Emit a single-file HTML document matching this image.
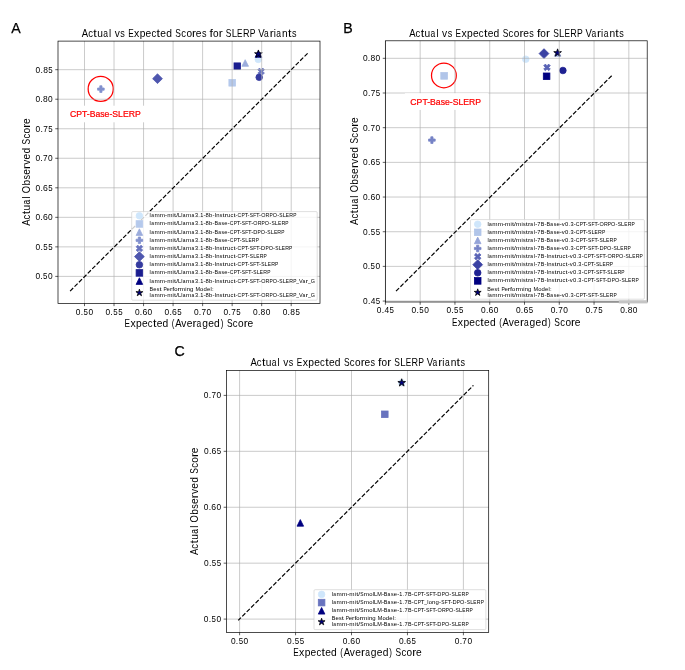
<!DOCTYPE html>
<html><head><meta charset="utf-8"><title>Actual vs Expected Scores for SLERP Variants</title>
<style>
html,body{margin:0;padding:0;background:#fff;}
body{width:685px;height:670px;overflow:hidden;}
svg{display:block;will-change:transform;}
text{font-family:"Liberation Sans",sans-serif;}
</style></head><body>
<svg width="685" height="670" viewBox="0 0 685 670">
<rect width="685" height="670" fill="#fff"/>
<circle cx="258.3" cy="59.4" r="3.3" fill="#cfe6fb" stroke="#cfe6fb" stroke-width="0.79"/>
<rect x="228.9" y="79.5" width="6.6" height="6.6" fill="#b5c9ec" stroke="#b5c9ec" stroke-width="0.79"/>
<polygon points="245.2,59.7 241.9,66.3 248.5,66.3" fill="#9bacdc" stroke="#9bacdc" stroke-width="0.79" stroke-linejoin="miter"/>
<polygon points="99.8,85.8 102,85.8 102,88 104.2,88 104.2,90.2 102,90.2 102,92.4 99.8,92.4 99.8,90.2 97.6,90.2 97.6,88 99.8,88" fill="#8190cd" stroke="#8190cd" stroke-width="0.79"/>
<polygon points="259.45,68.1 261.1,69.75 262.75,68.1 264.4,69.75 262.75,71.4 264.4,73.05 262.75,74.7 261.1,73.05 259.45,74.7 257.8,73.05 259.45,71.4 257.8,69.75" fill="#6873be" stroke="#6873be" stroke-width="0.79"/>
<polygon points="157.5,73.8 162.4,78.7 157.5,83.6 152.6,78.7" fill="#4e56ae" stroke="#4e56ae" stroke-width="0.79"/>
<circle cx="259.2" cy="77.3" r="3.3" fill="#343a9f" stroke="#343a9f" stroke-width="0.79"/>
<rect x="234" y="62.9" width="6.6" height="6.6" fill="#1a1d8f" stroke="#1a1d8f" stroke-width="0.79"/>
<polygon points="258.4,50.7 255.1,57.3 261.7,57.3" fill="#000080" stroke="#000080" stroke-width="0.79" stroke-linejoin="miter"/>
<polygon points="258.4,49.95 259.31,52.75 262.25,52.75 259.87,54.48 260.78,57.28 258.4,55.55 256.02,57.28 256.93,54.48 254.55,52.75 257.49,52.75" fill="#000080" stroke="#000" stroke-width="0.79" stroke-linejoin="miter"/>
<circle cx="100.7" cy="88.9" r="12.55" fill="none" stroke="#ff0000" stroke-width="1.25"/>
<path d="M84.5 41.1V303.4M114.03 41.1V303.4M143.56 41.1V303.4M173.09 41.1V303.4M202.62 41.1V303.4M232.15 41.1V303.4M261.68 41.1V303.4M291.21 41.1V303.4M58 276.4H320M58 246.87H320M58 217.34H320M58 187.81H320M58 158.28H320M58 128.75H320M58 99.22H320M58 69.69H320" stroke="#b0b0b0" stroke-width="0.66" fill="none"/>
<path d="M70.1 291.1L307.6 53.3" stroke="#000" stroke-width="1.18" stroke-dasharray="4.37 1.89" stroke-dashoffset="0" fill="none"/>
<rect x="64.5" y="105.7" width="82.5" height="16.6" fill="#fff"/>
<text x="69.97" y="116.7" font-size="8.66" fill="#ff0000" stroke="#ff0000" stroke-width="0.22">CPT-Base-SLERP</text>
<rect x="58" y="41.1" width="262" height="262.3" fill="none" stroke="#000" stroke-width="0.7"/>
<path d="M84.5 303.4V306.15M114.03 303.4V306.15M143.56 303.4V306.15M173.09 303.4V306.15M202.62 303.4V306.15M232.15 303.4V306.15M261.68 303.4V306.15M291.21 303.4V306.15M58 276.4H55.25M58 246.87H55.25M58 217.34H55.25M58 187.81H55.25M58 158.28H55.25M58 128.75H55.25M58 99.22H55.25M58 69.69H55.25" stroke="#000" stroke-width="0.63" fill="none"/>
<text y="314.85" font-size="8.43" fill="#000"><tspan x="75.85" textLength="4.66" lengthAdjust="spacingAndGlyphs">0</tspan><tspan x="80.77" textLength="2.4" lengthAdjust="spacingAndGlyphs">.</tspan><tspan x="83.53" textLength="4.4" lengthAdjust="spacingAndGlyphs">5</tspan><tspan x="88.49" textLength="4.66" lengthAdjust="spacingAndGlyphs">0</tspan></text>
<text y="314.85" font-size="8.43" fill="#000"><tspan x="105.46" textLength="4.66" lengthAdjust="spacingAndGlyphs">0</tspan><tspan x="110.39" textLength="2.4" lengthAdjust="spacingAndGlyphs">.</tspan><tspan x="113.15" textLength="4.4" lengthAdjust="spacingAndGlyphs">5</tspan><tspan x="118.2" textLength="4.4" lengthAdjust="spacingAndGlyphs">5</tspan></text>
<text y="314.85" font-size="8.43" fill="#000"><tspan x="134.91" textLength="4.66" lengthAdjust="spacingAndGlyphs">0</tspan><tspan x="139.83" textLength="2.4" lengthAdjust="spacingAndGlyphs">.</tspan><tspan x="142.42" textLength="4.83" lengthAdjust="spacingAndGlyphs">6</tspan><tspan x="147.55" textLength="4.66" lengthAdjust="spacingAndGlyphs">0</tspan></text>
<text y="314.85" font-size="8.43" fill="#000"><tspan x="164.52" textLength="4.66" lengthAdjust="spacingAndGlyphs">0</tspan><tspan x="169.45" textLength="2.4" lengthAdjust="spacingAndGlyphs">.</tspan><tspan x="172.03" textLength="4.83" lengthAdjust="spacingAndGlyphs">6</tspan><tspan x="177.26" textLength="4.4" lengthAdjust="spacingAndGlyphs">5</tspan></text>
<text y="314.85" font-size="8.43" fill="#000"><tspan x="193.97" textLength="4.66" lengthAdjust="spacingAndGlyphs">0</tspan><tspan x="198.89" textLength="2.4" lengthAdjust="spacingAndGlyphs">.</tspan><tspan x="201.59" textLength="4.56" lengthAdjust="spacingAndGlyphs">7</tspan><tspan x="206.61" textLength="4.66" lengthAdjust="spacingAndGlyphs">0</tspan></text>
<text y="314.85" font-size="8.43" fill="#000"><tspan x="223.58" textLength="4.66" lengthAdjust="spacingAndGlyphs">0</tspan><tspan x="228.51" textLength="2.4" lengthAdjust="spacingAndGlyphs">.</tspan><tspan x="231.2" textLength="4.56" lengthAdjust="spacingAndGlyphs">7</tspan><tspan x="236.32" textLength="4.4" lengthAdjust="spacingAndGlyphs">5</tspan></text>
<text y="314.85" font-size="8.43" fill="#000"><tspan x="253.03" textLength="4.66" lengthAdjust="spacingAndGlyphs">0</tspan><tspan x="257.95" textLength="2.4" lengthAdjust="spacingAndGlyphs">.</tspan><tspan x="260.59" textLength="4.71" lengthAdjust="spacingAndGlyphs">8</tspan><tspan x="265.67" textLength="4.66" lengthAdjust="spacingAndGlyphs">0</tspan></text>
<text y="314.85" font-size="8.43" fill="#000"><tspan x="282.64" textLength="4.66" lengthAdjust="spacingAndGlyphs">0</tspan><tspan x="287.57" textLength="2.4" lengthAdjust="spacingAndGlyphs">.</tspan><tspan x="290.2" textLength="4.71" lengthAdjust="spacingAndGlyphs">8</tspan><tspan x="295.38" textLength="4.4" lengthAdjust="spacingAndGlyphs">5</tspan></text>
<text y="279.3" font-size="8.43" fill="#000"><tspan x="35.43" textLength="4.66" lengthAdjust="spacingAndGlyphs">0</tspan><tspan x="40.35" textLength="2.4" lengthAdjust="spacingAndGlyphs">.</tspan><tspan x="43.11" textLength="4.4" lengthAdjust="spacingAndGlyphs">5</tspan><tspan x="48.07" textLength="4.66" lengthAdjust="spacingAndGlyphs">0</tspan></text>
<text y="249.77" font-size="8.43" fill="#000"><tspan x="35.59" textLength="4.66" lengthAdjust="spacingAndGlyphs">0</tspan><tspan x="40.51" textLength="2.4" lengthAdjust="spacingAndGlyphs">.</tspan><tspan x="43.27" textLength="4.4" lengthAdjust="spacingAndGlyphs">5</tspan><tspan x="48.33" textLength="4.4" lengthAdjust="spacingAndGlyphs">5</tspan></text>
<text y="220.24" font-size="8.43" fill="#000"><tspan x="35.43" textLength="4.66" lengthAdjust="spacingAndGlyphs">0</tspan><tspan x="40.35" textLength="2.4" lengthAdjust="spacingAndGlyphs">.</tspan><tspan x="42.93" textLength="4.83" lengthAdjust="spacingAndGlyphs">6</tspan><tspan x="48.07" textLength="4.66" lengthAdjust="spacingAndGlyphs">0</tspan></text>
<text y="190.71" font-size="8.43" fill="#000"><tspan x="35.59" textLength="4.66" lengthAdjust="spacingAndGlyphs">0</tspan><tspan x="40.51" textLength="2.4" lengthAdjust="spacingAndGlyphs">.</tspan><tspan x="43.1" textLength="4.83" lengthAdjust="spacingAndGlyphs">6</tspan><tspan x="48.33" textLength="4.4" lengthAdjust="spacingAndGlyphs">5</tspan></text>
<text y="161.18" font-size="8.43" fill="#000"><tspan x="35.43" textLength="4.66" lengthAdjust="spacingAndGlyphs">0</tspan><tspan x="40.35" textLength="2.4" lengthAdjust="spacingAndGlyphs">.</tspan><tspan x="43.05" textLength="4.56" lengthAdjust="spacingAndGlyphs">7</tspan><tspan x="48.07" textLength="4.66" lengthAdjust="spacingAndGlyphs">0</tspan></text>
<text y="131.65" font-size="8.43" fill="#000"><tspan x="35.59" textLength="4.66" lengthAdjust="spacingAndGlyphs">0</tspan><tspan x="40.51" textLength="2.4" lengthAdjust="spacingAndGlyphs">.</tspan><tspan x="43.21" textLength="4.56" lengthAdjust="spacingAndGlyphs">7</tspan><tspan x="48.33" textLength="4.4" lengthAdjust="spacingAndGlyphs">5</tspan></text>
<text y="102.12" font-size="8.43" fill="#000"><tspan x="35.43" textLength="4.66" lengthAdjust="spacingAndGlyphs">0</tspan><tspan x="40.35" textLength="2.4" lengthAdjust="spacingAndGlyphs">.</tspan><tspan x="42.99" textLength="4.71" lengthAdjust="spacingAndGlyphs">8</tspan><tspan x="48.07" textLength="4.66" lengthAdjust="spacingAndGlyphs">0</tspan></text>
<text y="72.59" font-size="8.43" fill="#000"><tspan x="35.59" textLength="4.66" lengthAdjust="spacingAndGlyphs">0</tspan><tspan x="40.51" textLength="2.4" lengthAdjust="spacingAndGlyphs">.</tspan><tspan x="43.15" textLength="4.71" lengthAdjust="spacingAndGlyphs">8</tspan><tspan x="48.33" textLength="4.4" lengthAdjust="spacingAndGlyphs">5</tspan></text>
<text y="36.95" font-size="10.03" fill="#000"><tspan x="81.85" textLength="6.36" lengthAdjust="spacingAndGlyphs">A</tspan><tspan x="88.22" textLength="4.74" lengthAdjust="spacingAndGlyphs">c</tspan><tspan x="93.37" textLength="3.51" lengthAdjust="spacingAndGlyphs">t</tspan><tspan x="97.16" textLength="5.67" lengthAdjust="spacingAndGlyphs">u</tspan><tspan x="103.22" textLength="4.73" lengthAdjust="spacingAndGlyphs">a</tspan><tspan x="109.05" textLength="2.15" lengthAdjust="spacingAndGlyphs">l</tspan> <tspan x="114.69" textLength="5.11" lengthAdjust="spacingAndGlyphs">v</tspan><tspan x="120.3" textLength="4.54" lengthAdjust="spacingAndGlyphs">s</tspan> <tspan x="128.23" textLength="5.47" lengthAdjust="spacingAndGlyphs">E</tspan><tspan x="134.11" textLength="5.25" lengthAdjust="spacingAndGlyphs">x</tspan><tspan x="139.74" textLength="5.72" lengthAdjust="spacingAndGlyphs">p</tspan><tspan x="145.64" textLength="5.68" lengthAdjust="spacingAndGlyphs">e</tspan><tspan x="151.49" textLength="4.74" lengthAdjust="spacingAndGlyphs">c</tspan><tspan x="156.64" textLength="3.51" lengthAdjust="spacingAndGlyphs">t</tspan><tspan x="160.37" textLength="5.68" lengthAdjust="spacingAndGlyphs">e</tspan><tspan x="166.2" textLength="5.72" lengthAdjust="spacingAndGlyphs">d</tspan> <tspan x="175.36" textLength="5.62" lengthAdjust="spacingAndGlyphs">S</tspan><tspan x="181.24" textLength="4.74" lengthAdjust="spacingAndGlyphs">c</tspan><tspan x="186.42" textLength="5.59" lengthAdjust="spacingAndGlyphs">o</tspan><tspan x="192.14" textLength="4.05" lengthAdjust="spacingAndGlyphs">r</tspan><tspan x="195.88" textLength="5.68" lengthAdjust="spacingAndGlyphs">e</tspan><tspan x="201.88" textLength="4.54" lengthAdjust="spacingAndGlyphs">s</tspan> <tspan x="209.59" textLength="3.45" lengthAdjust="spacingAndGlyphs">f</tspan><tspan x="212.98" textLength="5.59" lengthAdjust="spacingAndGlyphs">o</tspan><tspan x="218.7" textLength="4.05" lengthAdjust="spacingAndGlyphs">r</tspan> <tspan x="225.8" textLength="5.62" lengthAdjust="spacingAndGlyphs">S</tspan><tspan x="231.7" textLength="5.41" lengthAdjust="spacingAndGlyphs">L</tspan><tspan x="237.1" textLength="5.47" lengthAdjust="spacingAndGlyphs">E</tspan><tspan x="243.01" textLength="6.53" lengthAdjust="spacingAndGlyphs">R</tspan><tspan x="249.64" textLength="5.58" lengthAdjust="spacingAndGlyphs">P</tspan> <tspan x="258.14" textLength="6.4" lengthAdjust="spacingAndGlyphs">V</tspan><tspan x="264.05" textLength="4.73" lengthAdjust="spacingAndGlyphs">a</tspan><tspan x="269.67" textLength="4.05" lengthAdjust="spacingAndGlyphs">r</tspan><tspan x="273.77" textLength="2.15" lengthAdjust="spacingAndGlyphs">i</tspan><tspan x="276.36" textLength="4.73" lengthAdjust="spacingAndGlyphs">a</tspan><tspan x="282.13" textLength="5.67" lengthAdjust="spacingAndGlyphs">n</tspan><tspan x="288.01" textLength="3.51" lengthAdjust="spacingAndGlyphs">t</tspan><tspan x="291.92" textLength="4.54" lengthAdjust="spacingAndGlyphs">s</tspan></text>
<text y="327" font-size="10.03" fill="#000"><tspan x="124.61" textLength="5.47" lengthAdjust="spacingAndGlyphs">E</tspan><tspan x="130.48" textLength="5.25" lengthAdjust="spacingAndGlyphs">x</tspan><tspan x="136.12" textLength="5.72" lengthAdjust="spacingAndGlyphs">p</tspan><tspan x="142.02" textLength="5.68" lengthAdjust="spacingAndGlyphs">e</tspan><tspan x="147.87" textLength="4.74" lengthAdjust="spacingAndGlyphs">c</tspan><tspan x="153.02" textLength="3.51" lengthAdjust="spacingAndGlyphs">t</tspan><tspan x="156.75" textLength="5.68" lengthAdjust="spacingAndGlyphs">e</tspan><tspan x="162.57" textLength="5.72" lengthAdjust="spacingAndGlyphs">d</tspan> <tspan x="171.81" textLength="2.66" lengthAdjust="spacingAndGlyphs">(</tspan><tspan x="175.24" textLength="6.36" lengthAdjust="spacingAndGlyphs">A</tspan><tspan x="181.34" textLength="5.11" lengthAdjust="spacingAndGlyphs">v</tspan><tspan x="186.78" textLength="5.68" lengthAdjust="spacingAndGlyphs">e</tspan><tspan x="192.55" textLength="4.05" lengthAdjust="spacingAndGlyphs">r</tspan><tspan x="196.61" textLength="4.73" lengthAdjust="spacingAndGlyphs">a</tspan><tspan x="202.29" textLength="5.72" lengthAdjust="spacingAndGlyphs">g</tspan><tspan x="208.29" textLength="5.68" lengthAdjust="spacingAndGlyphs">e</tspan><tspan x="214.12" textLength="5.72" lengthAdjust="spacingAndGlyphs">d</tspan><tspan x="220.74" textLength="2.66" lengthAdjust="spacingAndGlyphs">)</tspan> <tspan x="226.97" textLength="5.62" lengthAdjust="spacingAndGlyphs">S</tspan><tspan x="232.85" textLength="4.74" lengthAdjust="spacingAndGlyphs">c</tspan><tspan x="238.04" textLength="5.59" lengthAdjust="spacingAndGlyphs">o</tspan><tspan x="243.75" textLength="4.05" lengthAdjust="spacingAndGlyphs">r</tspan><tspan x="247.49" textLength="5.68" lengthAdjust="spacingAndGlyphs">e</tspan></text>
<text transform="rotate(-90)" y="30" font-size="10.03" fill="#000"><tspan x="-225.81" textLength="6.36" lengthAdjust="spacingAndGlyphs">A</tspan><tspan x="-219.44" textLength="4.74" lengthAdjust="spacingAndGlyphs">c</tspan><tspan x="-214.29" textLength="3.51" lengthAdjust="spacingAndGlyphs">t</tspan><tspan x="-210.51" textLength="5.67" lengthAdjust="spacingAndGlyphs">u</tspan><tspan x="-204.45" textLength="4.73" lengthAdjust="spacingAndGlyphs">a</tspan><tspan x="-198.62" textLength="2.15" lengthAdjust="spacingAndGlyphs">l</tspan> <tspan x="-193.13" textLength="7.27" lengthAdjust="spacingAndGlyphs">O</tspan><tspan x="-185.58" textLength="5.72" lengthAdjust="spacingAndGlyphs">b</tspan><tspan x="-179.51" textLength="4.54" lengthAdjust="spacingAndGlyphs">s</tspan><tspan x="-174.75" textLength="5.68" lengthAdjust="spacingAndGlyphs">e</tspan><tspan x="-168.99" textLength="4.05" lengthAdjust="spacingAndGlyphs">r</tspan><tspan x="-164.88" textLength="5.11" lengthAdjust="spacingAndGlyphs">v</tspan><tspan x="-159.45" textLength="5.68" lengthAdjust="spacingAndGlyphs">e</tspan><tspan x="-153.62" textLength="5.72" lengthAdjust="spacingAndGlyphs">d</tspan> <tspan x="-144.46" textLength="5.62" lengthAdjust="spacingAndGlyphs">S</tspan><tspan x="-138.58" textLength="4.74" lengthAdjust="spacingAndGlyphs">c</tspan><tspan x="-133.4" textLength="5.59" lengthAdjust="spacingAndGlyphs">o</tspan><tspan x="-127.68" textLength="4.05" lengthAdjust="spacingAndGlyphs">r</tspan><tspan x="-123.94" textLength="5.68" lengthAdjust="spacingAndGlyphs">e</tspan></text>
<text x="11.2" y="33.1" font-size="14.2" fill="#000" stroke="#000" stroke-width="0.25">A</text>
<rect x="131.7" y="211.6" width="185.5" height="88.6" rx="1.1" fill="#fff" fill-opacity="0.8" stroke="#cccccc" stroke-opacity="0.8" stroke-width="0.785"/>
<circle cx="139.4" cy="215.8" r="3.3" fill="#cfe6fb" stroke="#cfe6fb" stroke-width="0.79"/>
<text y="217.3" font-size="5.84" fill="#000"><tspan x="149.62" textLength="1.25" lengthAdjust="spacingAndGlyphs">l</tspan><tspan x="151.13" textLength="2.75" lengthAdjust="spacingAndGlyphs">a</tspan><tspan x="154.47" textLength="5.23" lengthAdjust="spacingAndGlyphs">m</tspan><tspan x="159.84" textLength="5.23" lengthAdjust="spacingAndGlyphs">m</tspan><tspan x="165.13" textLength="1.98" lengthAdjust="spacingAndGlyphs">-</tspan><tspan x="167.19" textLength="5.23" lengthAdjust="spacingAndGlyphs">m</tspan><tspan x="172.62" textLength="1.25" lengthAdjust="spacingAndGlyphs">i</tspan><tspan x="174.05" textLength="2.05" lengthAdjust="spacingAndGlyphs">t</tspan><tspan x="176.17" textLength="1.86" lengthAdjust="spacingAndGlyphs">/</tspan><tspan x="178.1" textLength="3.15" lengthAdjust="spacingAndGlyphs">L</tspan><tspan x="181.24" textLength="1.25" lengthAdjust="spacingAndGlyphs">l</tspan><tspan x="182.75" textLength="2.75" lengthAdjust="spacingAndGlyphs">a</tspan><tspan x="186.08" textLength="5.23" lengthAdjust="spacingAndGlyphs">m</tspan><tspan x="191.49" textLength="2.75" lengthAdjust="spacingAndGlyphs">a</tspan><tspan x="194.95" textLength="3.1" lengthAdjust="spacingAndGlyphs">3</tspan><tspan x="198.3" textLength="1.66" lengthAdjust="spacingAndGlyphs">.</tspan><tspan x="200.19" textLength="3.08" lengthAdjust="spacingAndGlyphs">1</tspan><tspan x="203.51" textLength="1.98" lengthAdjust="spacingAndGlyphs">-</tspan><tspan x="205.62" textLength="3.26" lengthAdjust="spacingAndGlyphs">8</tspan><tspan x="209.12" textLength="3.33" lengthAdjust="spacingAndGlyphs">b</tspan><tspan x="212.51" textLength="1.98" lengthAdjust="spacingAndGlyphs">-</tspan><tspan x="214.49" textLength="1.62" lengthAdjust="spacingAndGlyphs">I</tspan><tspan x="216.22" textLength="3.31" lengthAdjust="spacingAndGlyphs">n</tspan><tspan x="219.76" textLength="2.64" lengthAdjust="spacingAndGlyphs">s</tspan><tspan x="222.51" textLength="2.05" lengthAdjust="spacingAndGlyphs">t</tspan><tspan x="224.65" textLength="2.36" lengthAdjust="spacingAndGlyphs">r</tspan><tspan x="226.98" textLength="3.3" lengthAdjust="spacingAndGlyphs">u</tspan><tspan x="230.46" textLength="2.76" lengthAdjust="spacingAndGlyphs">c</tspan><tspan x="233.46" textLength="2.05" lengthAdjust="spacingAndGlyphs">t</tspan><tspan x="235.59" textLength="1.98" lengthAdjust="spacingAndGlyphs">-</tspan><tspan x="237.62" textLength="3.69" lengthAdjust="spacingAndGlyphs">C</tspan><tspan x="241.56" textLength="3.25" lengthAdjust="spacingAndGlyphs">P</tspan><tspan x="244.59" textLength="3.67" lengthAdjust="spacingAndGlyphs">T</tspan><tspan x="247.61" textLength="1.98" lengthAdjust="spacingAndGlyphs">-</tspan><tspan x="249.73" textLength="3.28" lengthAdjust="spacingAndGlyphs">S</tspan><tspan x="253.24" textLength="2.89" lengthAdjust="spacingAndGlyphs">F</tspan><tspan x="256.01" textLength="3.67" lengthAdjust="spacingAndGlyphs">T</tspan><tspan x="259.03" textLength="1.98" lengthAdjust="spacingAndGlyphs">-</tspan><tspan x="261.21" textLength="4.23" lengthAdjust="spacingAndGlyphs">O</tspan><tspan x="265.61" textLength="3.81" lengthAdjust="spacingAndGlyphs">R</tspan><tspan x="269.47" textLength="3.25" lengthAdjust="spacingAndGlyphs">P</tspan><tspan x="272.7" textLength="4.23" lengthAdjust="spacingAndGlyphs">O</tspan><tspan x="277.15" textLength="1.98" lengthAdjust="spacingAndGlyphs">-</tspan><tspan x="279.27" textLength="3.28" lengthAdjust="spacingAndGlyphs">S</tspan><tspan x="282.71" textLength="3.15" lengthAdjust="spacingAndGlyphs">L</tspan><tspan x="285.85" textLength="3.19" lengthAdjust="spacingAndGlyphs">E</tspan><tspan x="289.29" textLength="3.81" lengthAdjust="spacingAndGlyphs">R</tspan><tspan x="293.15" textLength="3.25" lengthAdjust="spacingAndGlyphs">P</tspan></text>
<rect x="136.1" y="220.66" width="6.6" height="6.6" fill="#b5c9ec" stroke="#b5c9ec" stroke-width="0.79"/>
<text y="225.46" font-size="5.84" fill="#000"><tspan x="149.62" textLength="1.25" lengthAdjust="spacingAndGlyphs">l</tspan><tspan x="151.13" textLength="2.75" lengthAdjust="spacingAndGlyphs">a</tspan><tspan x="154.47" textLength="5.23" lengthAdjust="spacingAndGlyphs">m</tspan><tspan x="159.84" textLength="5.23" lengthAdjust="spacingAndGlyphs">m</tspan><tspan x="165.13" textLength="1.98" lengthAdjust="spacingAndGlyphs">-</tspan><tspan x="167.19" textLength="5.23" lengthAdjust="spacingAndGlyphs">m</tspan><tspan x="172.62" textLength="1.25" lengthAdjust="spacingAndGlyphs">i</tspan><tspan x="174.05" textLength="2.05" lengthAdjust="spacingAndGlyphs">t</tspan><tspan x="176.17" textLength="1.86" lengthAdjust="spacingAndGlyphs">/</tspan><tspan x="178.1" textLength="3.15" lengthAdjust="spacingAndGlyphs">L</tspan><tspan x="181.24" textLength="1.25" lengthAdjust="spacingAndGlyphs">l</tspan><tspan x="182.75" textLength="2.75" lengthAdjust="spacingAndGlyphs">a</tspan><tspan x="186.08" textLength="5.23" lengthAdjust="spacingAndGlyphs">m</tspan><tspan x="191.49" textLength="2.75" lengthAdjust="spacingAndGlyphs">a</tspan><tspan x="194.95" textLength="3.1" lengthAdjust="spacingAndGlyphs">3</tspan><tspan x="198.3" textLength="1.66" lengthAdjust="spacingAndGlyphs">.</tspan><tspan x="200.19" textLength="3.08" lengthAdjust="spacingAndGlyphs">1</tspan><tspan x="203.51" textLength="1.98" lengthAdjust="spacingAndGlyphs">-</tspan><tspan x="205.62" textLength="3.26" lengthAdjust="spacingAndGlyphs">8</tspan><tspan x="209.12" textLength="3.33" lengthAdjust="spacingAndGlyphs">b</tspan><tspan x="212.51" textLength="1.98" lengthAdjust="spacingAndGlyphs">-</tspan><tspan x="214.4" textLength="3.57" lengthAdjust="spacingAndGlyphs">B</tspan><tspan x="218.19" textLength="2.75" lengthAdjust="spacingAndGlyphs">a</tspan><tspan x="221.6" textLength="2.64" lengthAdjust="spacingAndGlyphs">s</tspan><tspan x="224.37" textLength="3.31" lengthAdjust="spacingAndGlyphs">e</tspan><tspan x="227.72" textLength="1.98" lengthAdjust="spacingAndGlyphs">-</tspan><tspan x="229.75" textLength="3.69" lengthAdjust="spacingAndGlyphs">C</tspan><tspan x="233.69" textLength="3.25" lengthAdjust="spacingAndGlyphs">P</tspan><tspan x="236.72" textLength="3.67" lengthAdjust="spacingAndGlyphs">T</tspan><tspan x="239.73" textLength="1.98" lengthAdjust="spacingAndGlyphs">-</tspan><tspan x="241.85" textLength="3.28" lengthAdjust="spacingAndGlyphs">S</tspan><tspan x="245.37" textLength="2.89" lengthAdjust="spacingAndGlyphs">F</tspan><tspan x="248.13" textLength="3.67" lengthAdjust="spacingAndGlyphs">T</tspan><tspan x="251.15" textLength="1.98" lengthAdjust="spacingAndGlyphs">-</tspan><tspan x="253.34" textLength="4.23" lengthAdjust="spacingAndGlyphs">O</tspan><tspan x="257.73" textLength="3.81" lengthAdjust="spacingAndGlyphs">R</tspan><tspan x="261.6" textLength="3.25" lengthAdjust="spacingAndGlyphs">P</tspan><tspan x="264.83" textLength="4.23" lengthAdjust="spacingAndGlyphs">O</tspan><tspan x="269.27" textLength="1.98" lengthAdjust="spacingAndGlyphs">-</tspan><tspan x="271.4" textLength="3.28" lengthAdjust="spacingAndGlyphs">S</tspan><tspan x="274.83" textLength="3.15" lengthAdjust="spacingAndGlyphs">L</tspan><tspan x="277.97" textLength="3.19" lengthAdjust="spacingAndGlyphs">E</tspan><tspan x="281.42" textLength="3.81" lengthAdjust="spacingAndGlyphs">R</tspan><tspan x="285.28" textLength="3.25" lengthAdjust="spacingAndGlyphs">P</tspan></text>
<polygon points="139.4,228.82 136.1,235.42 142.7,235.42" fill="#9bacdc" stroke="#9bacdc" stroke-width="0.79" stroke-linejoin="miter"/>
<text y="233.62" font-size="5.84" fill="#000"><tspan x="149.62" textLength="1.25" lengthAdjust="spacingAndGlyphs">l</tspan><tspan x="151.13" textLength="2.75" lengthAdjust="spacingAndGlyphs">a</tspan><tspan x="154.47" textLength="5.23" lengthAdjust="spacingAndGlyphs">m</tspan><tspan x="159.84" textLength="5.23" lengthAdjust="spacingAndGlyphs">m</tspan><tspan x="165.13" textLength="1.98" lengthAdjust="spacingAndGlyphs">-</tspan><tspan x="167.19" textLength="5.23" lengthAdjust="spacingAndGlyphs">m</tspan><tspan x="172.62" textLength="1.25" lengthAdjust="spacingAndGlyphs">i</tspan><tspan x="174.05" textLength="2.05" lengthAdjust="spacingAndGlyphs">t</tspan><tspan x="176.17" textLength="1.86" lengthAdjust="spacingAndGlyphs">/</tspan><tspan x="178.1" textLength="3.15" lengthAdjust="spacingAndGlyphs">L</tspan><tspan x="181.24" textLength="1.25" lengthAdjust="spacingAndGlyphs">l</tspan><tspan x="182.75" textLength="2.75" lengthAdjust="spacingAndGlyphs">a</tspan><tspan x="186.08" textLength="5.23" lengthAdjust="spacingAndGlyphs">m</tspan><tspan x="191.49" textLength="2.75" lengthAdjust="spacingAndGlyphs">a</tspan><tspan x="194.95" textLength="3.1" lengthAdjust="spacingAndGlyphs">3</tspan><tspan x="198.3" textLength="1.66" lengthAdjust="spacingAndGlyphs">.</tspan><tspan x="200.19" textLength="3.08" lengthAdjust="spacingAndGlyphs">1</tspan><tspan x="203.51" textLength="1.98" lengthAdjust="spacingAndGlyphs">-</tspan><tspan x="205.62" textLength="3.26" lengthAdjust="spacingAndGlyphs">8</tspan><tspan x="209.12" textLength="3.33" lengthAdjust="spacingAndGlyphs">b</tspan><tspan x="212.51" textLength="1.98" lengthAdjust="spacingAndGlyphs">-</tspan><tspan x="214.4" textLength="3.57" lengthAdjust="spacingAndGlyphs">B</tspan><tspan x="218.19" textLength="2.75" lengthAdjust="spacingAndGlyphs">a</tspan><tspan x="221.6" textLength="2.64" lengthAdjust="spacingAndGlyphs">s</tspan><tspan x="224.37" textLength="3.31" lengthAdjust="spacingAndGlyphs">e</tspan><tspan x="227.72" textLength="1.98" lengthAdjust="spacingAndGlyphs">-</tspan><tspan x="229.75" textLength="3.69" lengthAdjust="spacingAndGlyphs">C</tspan><tspan x="233.69" textLength="3.25" lengthAdjust="spacingAndGlyphs">P</tspan><tspan x="236.72" textLength="3.67" lengthAdjust="spacingAndGlyphs">T</tspan><tspan x="239.73" textLength="1.98" lengthAdjust="spacingAndGlyphs">-</tspan><tspan x="241.85" textLength="3.28" lengthAdjust="spacingAndGlyphs">S</tspan><tspan x="245.37" textLength="2.89" lengthAdjust="spacingAndGlyphs">F</tspan><tspan x="248.13" textLength="3.67" lengthAdjust="spacingAndGlyphs">T</tspan><tspan x="251.15" textLength="1.98" lengthAdjust="spacingAndGlyphs">-</tspan><tspan x="253.21" textLength="4.11" lengthAdjust="spacingAndGlyphs">D</tspan><tspan x="257.52" textLength="3.25" lengthAdjust="spacingAndGlyphs">P</tspan><tspan x="260.75" textLength="4.23" lengthAdjust="spacingAndGlyphs">O</tspan><tspan x="265.2" textLength="1.98" lengthAdjust="spacingAndGlyphs">-</tspan><tspan x="267.32" textLength="3.28" lengthAdjust="spacingAndGlyphs">S</tspan><tspan x="270.75" textLength="3.15" lengthAdjust="spacingAndGlyphs">L</tspan><tspan x="273.9" textLength="3.19" lengthAdjust="spacingAndGlyphs">E</tspan><tspan x="277.34" textLength="3.81" lengthAdjust="spacingAndGlyphs">R</tspan><tspan x="281.2" textLength="3.25" lengthAdjust="spacingAndGlyphs">P</tspan></text>
<polygon points="138.3,236.98 140.5,236.98 140.5,239.18 142.7,239.18 142.7,241.38 140.5,241.38 140.5,243.58 138.3,243.58 138.3,241.38 136.1,241.38 136.1,239.18 138.3,239.18" fill="#8190cd" stroke="#8190cd" stroke-width="0.79"/>
<text y="241.78" font-size="5.84" fill="#000"><tspan x="149.62" textLength="1.25" lengthAdjust="spacingAndGlyphs">l</tspan><tspan x="151.13" textLength="2.75" lengthAdjust="spacingAndGlyphs">a</tspan><tspan x="154.47" textLength="5.23" lengthAdjust="spacingAndGlyphs">m</tspan><tspan x="159.84" textLength="5.23" lengthAdjust="spacingAndGlyphs">m</tspan><tspan x="165.13" textLength="1.98" lengthAdjust="spacingAndGlyphs">-</tspan><tspan x="167.19" textLength="5.23" lengthAdjust="spacingAndGlyphs">m</tspan><tspan x="172.62" textLength="1.25" lengthAdjust="spacingAndGlyphs">i</tspan><tspan x="174.05" textLength="2.05" lengthAdjust="spacingAndGlyphs">t</tspan><tspan x="176.17" textLength="1.86" lengthAdjust="spacingAndGlyphs">/</tspan><tspan x="178.1" textLength="3.15" lengthAdjust="spacingAndGlyphs">L</tspan><tspan x="181.24" textLength="1.25" lengthAdjust="spacingAndGlyphs">l</tspan><tspan x="182.75" textLength="2.75" lengthAdjust="spacingAndGlyphs">a</tspan><tspan x="186.08" textLength="5.23" lengthAdjust="spacingAndGlyphs">m</tspan><tspan x="191.49" textLength="2.75" lengthAdjust="spacingAndGlyphs">a</tspan><tspan x="194.95" textLength="3.1" lengthAdjust="spacingAndGlyphs">3</tspan><tspan x="198.3" textLength="1.66" lengthAdjust="spacingAndGlyphs">.</tspan><tspan x="200.19" textLength="3.08" lengthAdjust="spacingAndGlyphs">1</tspan><tspan x="203.51" textLength="1.98" lengthAdjust="spacingAndGlyphs">-</tspan><tspan x="205.62" textLength="3.26" lengthAdjust="spacingAndGlyphs">8</tspan><tspan x="209.12" textLength="3.33" lengthAdjust="spacingAndGlyphs">b</tspan><tspan x="212.51" textLength="1.98" lengthAdjust="spacingAndGlyphs">-</tspan><tspan x="214.4" textLength="3.57" lengthAdjust="spacingAndGlyphs">B</tspan><tspan x="218.19" textLength="2.75" lengthAdjust="spacingAndGlyphs">a</tspan><tspan x="221.6" textLength="2.64" lengthAdjust="spacingAndGlyphs">s</tspan><tspan x="224.37" textLength="3.31" lengthAdjust="spacingAndGlyphs">e</tspan><tspan x="227.72" textLength="1.98" lengthAdjust="spacingAndGlyphs">-</tspan><tspan x="229.75" textLength="3.69" lengthAdjust="spacingAndGlyphs">C</tspan><tspan x="233.69" textLength="3.25" lengthAdjust="spacingAndGlyphs">P</tspan><tspan x="236.72" textLength="3.67" lengthAdjust="spacingAndGlyphs">T</tspan><tspan x="239.73" textLength="1.98" lengthAdjust="spacingAndGlyphs">-</tspan><tspan x="241.85" textLength="3.28" lengthAdjust="spacingAndGlyphs">S</tspan><tspan x="245.29" textLength="3.15" lengthAdjust="spacingAndGlyphs">L</tspan><tspan x="248.43" textLength="3.19" lengthAdjust="spacingAndGlyphs">E</tspan><tspan x="251.87" textLength="3.81" lengthAdjust="spacingAndGlyphs">R</tspan><tspan x="255.73" textLength="3.25" lengthAdjust="spacingAndGlyphs">P</tspan></text>
<polygon points="137.75,245.14 139.4,246.79 141.05,245.14 142.7,246.79 141.05,248.44 142.7,250.09 141.05,251.74 139.4,250.09 137.75,251.74 136.1,250.09 137.75,248.44 136.1,246.79" fill="#6873be" stroke="#6873be" stroke-width="0.79"/>
<text y="249.94" font-size="5.84" fill="#000"><tspan x="149.62" textLength="1.25" lengthAdjust="spacingAndGlyphs">l</tspan><tspan x="151.13" textLength="2.75" lengthAdjust="spacingAndGlyphs">a</tspan><tspan x="154.47" textLength="5.23" lengthAdjust="spacingAndGlyphs">m</tspan><tspan x="159.84" textLength="5.23" lengthAdjust="spacingAndGlyphs">m</tspan><tspan x="165.13" textLength="1.98" lengthAdjust="spacingAndGlyphs">-</tspan><tspan x="167.19" textLength="5.23" lengthAdjust="spacingAndGlyphs">m</tspan><tspan x="172.62" textLength="1.25" lengthAdjust="spacingAndGlyphs">i</tspan><tspan x="174.05" textLength="2.05" lengthAdjust="spacingAndGlyphs">t</tspan><tspan x="176.17" textLength="1.86" lengthAdjust="spacingAndGlyphs">/</tspan><tspan x="178.1" textLength="3.15" lengthAdjust="spacingAndGlyphs">L</tspan><tspan x="181.24" textLength="1.25" lengthAdjust="spacingAndGlyphs">l</tspan><tspan x="182.75" textLength="2.75" lengthAdjust="spacingAndGlyphs">a</tspan><tspan x="186.08" textLength="5.23" lengthAdjust="spacingAndGlyphs">m</tspan><tspan x="191.49" textLength="2.75" lengthAdjust="spacingAndGlyphs">a</tspan><tspan x="194.95" textLength="3.1" lengthAdjust="spacingAndGlyphs">3</tspan><tspan x="198.3" textLength="1.66" lengthAdjust="spacingAndGlyphs">.</tspan><tspan x="200.19" textLength="3.08" lengthAdjust="spacingAndGlyphs">1</tspan><tspan x="203.51" textLength="1.98" lengthAdjust="spacingAndGlyphs">-</tspan><tspan x="205.62" textLength="3.26" lengthAdjust="spacingAndGlyphs">8</tspan><tspan x="209.12" textLength="3.33" lengthAdjust="spacingAndGlyphs">b</tspan><tspan x="212.51" textLength="1.98" lengthAdjust="spacingAndGlyphs">-</tspan><tspan x="214.49" textLength="1.62" lengthAdjust="spacingAndGlyphs">I</tspan><tspan x="216.22" textLength="3.31" lengthAdjust="spacingAndGlyphs">n</tspan><tspan x="219.76" textLength="2.64" lengthAdjust="spacingAndGlyphs">s</tspan><tspan x="222.51" textLength="2.05" lengthAdjust="spacingAndGlyphs">t</tspan><tspan x="224.65" textLength="2.36" lengthAdjust="spacingAndGlyphs">r</tspan><tspan x="226.98" textLength="3.3" lengthAdjust="spacingAndGlyphs">u</tspan><tspan x="230.46" textLength="2.76" lengthAdjust="spacingAndGlyphs">c</tspan><tspan x="233.46" textLength="2.05" lengthAdjust="spacingAndGlyphs">t</tspan><tspan x="235.59" textLength="1.98" lengthAdjust="spacingAndGlyphs">-</tspan><tspan x="237.62" textLength="3.69" lengthAdjust="spacingAndGlyphs">C</tspan><tspan x="241.56" textLength="3.25" lengthAdjust="spacingAndGlyphs">P</tspan><tspan x="244.59" textLength="3.67" lengthAdjust="spacingAndGlyphs">T</tspan><tspan x="247.61" textLength="1.98" lengthAdjust="spacingAndGlyphs">-</tspan><tspan x="249.73" textLength="3.28" lengthAdjust="spacingAndGlyphs">S</tspan><tspan x="253.24" textLength="2.89" lengthAdjust="spacingAndGlyphs">F</tspan><tspan x="256.01" textLength="3.67" lengthAdjust="spacingAndGlyphs">T</tspan><tspan x="259.03" textLength="1.98" lengthAdjust="spacingAndGlyphs">-</tspan><tspan x="261.08" textLength="4.11" lengthAdjust="spacingAndGlyphs">D</tspan><tspan x="265.39" textLength="3.25" lengthAdjust="spacingAndGlyphs">P</tspan><tspan x="268.63" textLength="4.23" lengthAdjust="spacingAndGlyphs">O</tspan><tspan x="273.07" textLength="1.98" lengthAdjust="spacingAndGlyphs">-</tspan><tspan x="275.19" textLength="3.28" lengthAdjust="spacingAndGlyphs">S</tspan><tspan x="278.63" textLength="3.15" lengthAdjust="spacingAndGlyphs">L</tspan><tspan x="281.77" textLength="3.19" lengthAdjust="spacingAndGlyphs">E</tspan><tspan x="285.21" textLength="3.81" lengthAdjust="spacingAndGlyphs">R</tspan><tspan x="289.07" textLength="3.25" lengthAdjust="spacingAndGlyphs">P</tspan></text>
<polygon points="139.4,251.7 144.3,256.6 139.4,261.5 134.5,256.6" fill="#4e56ae" stroke="#4e56ae" stroke-width="0.79"/>
<text y="258.1" font-size="5.84" fill="#000"><tspan x="149.62" textLength="1.25" lengthAdjust="spacingAndGlyphs">l</tspan><tspan x="151.13" textLength="2.75" lengthAdjust="spacingAndGlyphs">a</tspan><tspan x="154.47" textLength="5.23" lengthAdjust="spacingAndGlyphs">m</tspan><tspan x="159.84" textLength="5.23" lengthAdjust="spacingAndGlyphs">m</tspan><tspan x="165.13" textLength="1.98" lengthAdjust="spacingAndGlyphs">-</tspan><tspan x="167.19" textLength="5.23" lengthAdjust="spacingAndGlyphs">m</tspan><tspan x="172.62" textLength="1.25" lengthAdjust="spacingAndGlyphs">i</tspan><tspan x="174.05" textLength="2.05" lengthAdjust="spacingAndGlyphs">t</tspan><tspan x="176.17" textLength="1.86" lengthAdjust="spacingAndGlyphs">/</tspan><tspan x="178.1" textLength="3.15" lengthAdjust="spacingAndGlyphs">L</tspan><tspan x="181.24" textLength="1.25" lengthAdjust="spacingAndGlyphs">l</tspan><tspan x="182.75" textLength="2.75" lengthAdjust="spacingAndGlyphs">a</tspan><tspan x="186.08" textLength="5.23" lengthAdjust="spacingAndGlyphs">m</tspan><tspan x="191.49" textLength="2.75" lengthAdjust="spacingAndGlyphs">a</tspan><tspan x="194.95" textLength="3.1" lengthAdjust="spacingAndGlyphs">3</tspan><tspan x="198.3" textLength="1.66" lengthAdjust="spacingAndGlyphs">.</tspan><tspan x="200.19" textLength="3.08" lengthAdjust="spacingAndGlyphs">1</tspan><tspan x="203.51" textLength="1.98" lengthAdjust="spacingAndGlyphs">-</tspan><tspan x="205.62" textLength="3.26" lengthAdjust="spacingAndGlyphs">8</tspan><tspan x="209.12" textLength="3.33" lengthAdjust="spacingAndGlyphs">b</tspan><tspan x="212.51" textLength="1.98" lengthAdjust="spacingAndGlyphs">-</tspan><tspan x="214.49" textLength="1.62" lengthAdjust="spacingAndGlyphs">I</tspan><tspan x="216.22" textLength="3.31" lengthAdjust="spacingAndGlyphs">n</tspan><tspan x="219.76" textLength="2.64" lengthAdjust="spacingAndGlyphs">s</tspan><tspan x="222.51" textLength="2.05" lengthAdjust="spacingAndGlyphs">t</tspan><tspan x="224.65" textLength="2.36" lengthAdjust="spacingAndGlyphs">r</tspan><tspan x="226.98" textLength="3.3" lengthAdjust="spacingAndGlyphs">u</tspan><tspan x="230.46" textLength="2.76" lengthAdjust="spacingAndGlyphs">c</tspan><tspan x="233.46" textLength="2.05" lengthAdjust="spacingAndGlyphs">t</tspan><tspan x="235.59" textLength="1.98" lengthAdjust="spacingAndGlyphs">-</tspan><tspan x="237.62" textLength="3.69" lengthAdjust="spacingAndGlyphs">C</tspan><tspan x="241.56" textLength="3.25" lengthAdjust="spacingAndGlyphs">P</tspan><tspan x="244.59" textLength="3.67" lengthAdjust="spacingAndGlyphs">T</tspan><tspan x="247.61" textLength="1.98" lengthAdjust="spacingAndGlyphs">-</tspan><tspan x="249.73" textLength="3.28" lengthAdjust="spacingAndGlyphs">S</tspan><tspan x="253.16" textLength="3.15" lengthAdjust="spacingAndGlyphs">L</tspan><tspan x="256.31" textLength="3.19" lengthAdjust="spacingAndGlyphs">E</tspan><tspan x="259.75" textLength="3.81" lengthAdjust="spacingAndGlyphs">R</tspan><tspan x="263.61" textLength="3.25" lengthAdjust="spacingAndGlyphs">P</tspan></text>
<circle cx="139.4" cy="264.76" r="3.3" fill="#343a9f" stroke="#343a9f" stroke-width="0.79"/>
<text y="266.26" font-size="5.84" fill="#000"><tspan x="149.62" textLength="1.25" lengthAdjust="spacingAndGlyphs">l</tspan><tspan x="151.13" textLength="2.75" lengthAdjust="spacingAndGlyphs">a</tspan><tspan x="154.47" textLength="5.23" lengthAdjust="spacingAndGlyphs">m</tspan><tspan x="159.84" textLength="5.23" lengthAdjust="spacingAndGlyphs">m</tspan><tspan x="165.13" textLength="1.98" lengthAdjust="spacingAndGlyphs">-</tspan><tspan x="167.19" textLength="5.23" lengthAdjust="spacingAndGlyphs">m</tspan><tspan x="172.62" textLength="1.25" lengthAdjust="spacingAndGlyphs">i</tspan><tspan x="174.05" textLength="2.05" lengthAdjust="spacingAndGlyphs">t</tspan><tspan x="176.17" textLength="1.86" lengthAdjust="spacingAndGlyphs">/</tspan><tspan x="178.1" textLength="3.15" lengthAdjust="spacingAndGlyphs">L</tspan><tspan x="181.24" textLength="1.25" lengthAdjust="spacingAndGlyphs">l</tspan><tspan x="182.75" textLength="2.75" lengthAdjust="spacingAndGlyphs">a</tspan><tspan x="186.08" textLength="5.23" lengthAdjust="spacingAndGlyphs">m</tspan><tspan x="191.49" textLength="2.75" lengthAdjust="spacingAndGlyphs">a</tspan><tspan x="194.95" textLength="3.1" lengthAdjust="spacingAndGlyphs">3</tspan><tspan x="198.3" textLength="1.66" lengthAdjust="spacingAndGlyphs">.</tspan><tspan x="200.19" textLength="3.08" lengthAdjust="spacingAndGlyphs">1</tspan><tspan x="203.51" textLength="1.98" lengthAdjust="spacingAndGlyphs">-</tspan><tspan x="205.62" textLength="3.26" lengthAdjust="spacingAndGlyphs">8</tspan><tspan x="209.12" textLength="3.33" lengthAdjust="spacingAndGlyphs">b</tspan><tspan x="212.51" textLength="1.98" lengthAdjust="spacingAndGlyphs">-</tspan><tspan x="214.49" textLength="1.62" lengthAdjust="spacingAndGlyphs">I</tspan><tspan x="216.22" textLength="3.31" lengthAdjust="spacingAndGlyphs">n</tspan><tspan x="219.76" textLength="2.64" lengthAdjust="spacingAndGlyphs">s</tspan><tspan x="222.51" textLength="2.05" lengthAdjust="spacingAndGlyphs">t</tspan><tspan x="224.65" textLength="2.36" lengthAdjust="spacingAndGlyphs">r</tspan><tspan x="226.98" textLength="3.3" lengthAdjust="spacingAndGlyphs">u</tspan><tspan x="230.46" textLength="2.76" lengthAdjust="spacingAndGlyphs">c</tspan><tspan x="233.46" textLength="2.05" lengthAdjust="spacingAndGlyphs">t</tspan><tspan x="235.59" textLength="1.98" lengthAdjust="spacingAndGlyphs">-</tspan><tspan x="237.62" textLength="3.69" lengthAdjust="spacingAndGlyphs">C</tspan><tspan x="241.56" textLength="3.25" lengthAdjust="spacingAndGlyphs">P</tspan><tspan x="244.59" textLength="3.67" lengthAdjust="spacingAndGlyphs">T</tspan><tspan x="247.61" textLength="1.98" lengthAdjust="spacingAndGlyphs">-</tspan><tspan x="249.73" textLength="3.28" lengthAdjust="spacingAndGlyphs">S</tspan><tspan x="253.24" textLength="2.89" lengthAdjust="spacingAndGlyphs">F</tspan><tspan x="256.01" textLength="3.67" lengthAdjust="spacingAndGlyphs">T</tspan><tspan x="259.03" textLength="1.98" lengthAdjust="spacingAndGlyphs">-</tspan><tspan x="261.15" textLength="3.28" lengthAdjust="spacingAndGlyphs">S</tspan><tspan x="264.58" textLength="3.15" lengthAdjust="spacingAndGlyphs">L</tspan><tspan x="267.73" textLength="3.19" lengthAdjust="spacingAndGlyphs">E</tspan><tspan x="271.17" textLength="3.81" lengthAdjust="spacingAndGlyphs">R</tspan><tspan x="275.03" textLength="3.25" lengthAdjust="spacingAndGlyphs">P</tspan></text>
<rect x="136.1" y="269.62" width="6.6" height="6.6" fill="#1a1d8f" stroke="#1a1d8f" stroke-width="0.79"/>
<text y="274.42" font-size="5.84" fill="#000"><tspan x="149.62" textLength="1.25" lengthAdjust="spacingAndGlyphs">l</tspan><tspan x="151.13" textLength="2.75" lengthAdjust="spacingAndGlyphs">a</tspan><tspan x="154.47" textLength="5.23" lengthAdjust="spacingAndGlyphs">m</tspan><tspan x="159.84" textLength="5.23" lengthAdjust="spacingAndGlyphs">m</tspan><tspan x="165.13" textLength="1.98" lengthAdjust="spacingAndGlyphs">-</tspan><tspan x="167.19" textLength="5.23" lengthAdjust="spacingAndGlyphs">m</tspan><tspan x="172.62" textLength="1.25" lengthAdjust="spacingAndGlyphs">i</tspan><tspan x="174.05" textLength="2.05" lengthAdjust="spacingAndGlyphs">t</tspan><tspan x="176.17" textLength="1.86" lengthAdjust="spacingAndGlyphs">/</tspan><tspan x="178.1" textLength="3.15" lengthAdjust="spacingAndGlyphs">L</tspan><tspan x="181.24" textLength="1.25" lengthAdjust="spacingAndGlyphs">l</tspan><tspan x="182.75" textLength="2.75" lengthAdjust="spacingAndGlyphs">a</tspan><tspan x="186.08" textLength="5.23" lengthAdjust="spacingAndGlyphs">m</tspan><tspan x="191.49" textLength="2.75" lengthAdjust="spacingAndGlyphs">a</tspan><tspan x="194.95" textLength="3.1" lengthAdjust="spacingAndGlyphs">3</tspan><tspan x="198.3" textLength="1.66" lengthAdjust="spacingAndGlyphs">.</tspan><tspan x="200.19" textLength="3.08" lengthAdjust="spacingAndGlyphs">1</tspan><tspan x="203.51" textLength="1.98" lengthAdjust="spacingAndGlyphs">-</tspan><tspan x="205.62" textLength="3.26" lengthAdjust="spacingAndGlyphs">8</tspan><tspan x="209.12" textLength="3.33" lengthAdjust="spacingAndGlyphs">b</tspan><tspan x="212.51" textLength="1.98" lengthAdjust="spacingAndGlyphs">-</tspan><tspan x="214.4" textLength="3.57" lengthAdjust="spacingAndGlyphs">B</tspan><tspan x="218.19" textLength="2.75" lengthAdjust="spacingAndGlyphs">a</tspan><tspan x="221.6" textLength="2.64" lengthAdjust="spacingAndGlyphs">s</tspan><tspan x="224.37" textLength="3.31" lengthAdjust="spacingAndGlyphs">e</tspan><tspan x="227.72" textLength="1.98" lengthAdjust="spacingAndGlyphs">-</tspan><tspan x="229.75" textLength="3.69" lengthAdjust="spacingAndGlyphs">C</tspan><tspan x="233.69" textLength="3.25" lengthAdjust="spacingAndGlyphs">P</tspan><tspan x="236.72" textLength="3.67" lengthAdjust="spacingAndGlyphs">T</tspan><tspan x="239.73" textLength="1.98" lengthAdjust="spacingAndGlyphs">-</tspan><tspan x="241.85" textLength="3.28" lengthAdjust="spacingAndGlyphs">S</tspan><tspan x="245.37" textLength="2.89" lengthAdjust="spacingAndGlyphs">F</tspan><tspan x="248.13" textLength="3.67" lengthAdjust="spacingAndGlyphs">T</tspan><tspan x="251.15" textLength="1.98" lengthAdjust="spacingAndGlyphs">-</tspan><tspan x="253.27" textLength="3.28" lengthAdjust="spacingAndGlyphs">S</tspan><tspan x="256.71" textLength="3.15" lengthAdjust="spacingAndGlyphs">L</tspan><tspan x="259.85" textLength="3.19" lengthAdjust="spacingAndGlyphs">E</tspan><tspan x="263.29" textLength="3.81" lengthAdjust="spacingAndGlyphs">R</tspan><tspan x="267.15" textLength="3.25" lengthAdjust="spacingAndGlyphs">P</tspan></text>
<polygon points="139.4,277.78 136.1,284.38 142.7,284.38" fill="#000080" stroke="#000080" stroke-width="0.79" stroke-linejoin="miter"/>
<text y="282.58" font-size="5.84" fill="#000"><tspan x="149.62" textLength="1.25" lengthAdjust="spacingAndGlyphs">l</tspan><tspan x="151.13" textLength="2.75" lengthAdjust="spacingAndGlyphs">a</tspan><tspan x="154.47" textLength="5.23" lengthAdjust="spacingAndGlyphs">m</tspan><tspan x="159.84" textLength="5.23" lengthAdjust="spacingAndGlyphs">m</tspan><tspan x="165.13" textLength="1.98" lengthAdjust="spacingAndGlyphs">-</tspan><tspan x="167.19" textLength="5.23" lengthAdjust="spacingAndGlyphs">m</tspan><tspan x="172.62" textLength="1.25" lengthAdjust="spacingAndGlyphs">i</tspan><tspan x="174.05" textLength="2.05" lengthAdjust="spacingAndGlyphs">t</tspan><tspan x="176.17" textLength="1.86" lengthAdjust="spacingAndGlyphs">/</tspan><tspan x="178.1" textLength="3.15" lengthAdjust="spacingAndGlyphs">L</tspan><tspan x="181.24" textLength="1.25" lengthAdjust="spacingAndGlyphs">l</tspan><tspan x="182.75" textLength="2.75" lengthAdjust="spacingAndGlyphs">a</tspan><tspan x="186.08" textLength="5.23" lengthAdjust="spacingAndGlyphs">m</tspan><tspan x="191.49" textLength="2.75" lengthAdjust="spacingAndGlyphs">a</tspan><tspan x="194.95" textLength="3.1" lengthAdjust="spacingAndGlyphs">3</tspan><tspan x="198.3" textLength="1.66" lengthAdjust="spacingAndGlyphs">.</tspan><tspan x="200.19" textLength="3.08" lengthAdjust="spacingAndGlyphs">1</tspan><tspan x="203.51" textLength="1.98" lengthAdjust="spacingAndGlyphs">-</tspan><tspan x="205.62" textLength="3.26" lengthAdjust="spacingAndGlyphs">8</tspan><tspan x="209.12" textLength="3.33" lengthAdjust="spacingAndGlyphs">b</tspan><tspan x="212.51" textLength="1.98" lengthAdjust="spacingAndGlyphs">-</tspan><tspan x="214.49" textLength="1.62" lengthAdjust="spacingAndGlyphs">I</tspan><tspan x="216.22" textLength="3.31" lengthAdjust="spacingAndGlyphs">n</tspan><tspan x="219.76" textLength="2.64" lengthAdjust="spacingAndGlyphs">s</tspan><tspan x="222.51" textLength="2.05" lengthAdjust="spacingAndGlyphs">t</tspan><tspan x="224.65" textLength="2.36" lengthAdjust="spacingAndGlyphs">r</tspan><tspan x="226.98" textLength="3.3" lengthAdjust="spacingAndGlyphs">u</tspan><tspan x="230.46" textLength="2.76" lengthAdjust="spacingAndGlyphs">c</tspan><tspan x="233.46" textLength="2.05" lengthAdjust="spacingAndGlyphs">t</tspan><tspan x="235.59" textLength="1.98" lengthAdjust="spacingAndGlyphs">-</tspan><tspan x="237.62" textLength="3.69" lengthAdjust="spacingAndGlyphs">C</tspan><tspan x="241.56" textLength="3.25" lengthAdjust="spacingAndGlyphs">P</tspan><tspan x="244.59" textLength="3.67" lengthAdjust="spacingAndGlyphs">T</tspan><tspan x="247.61" textLength="1.98" lengthAdjust="spacingAndGlyphs">-</tspan><tspan x="249.73" textLength="3.28" lengthAdjust="spacingAndGlyphs">S</tspan><tspan x="253.24" textLength="2.89" lengthAdjust="spacingAndGlyphs">F</tspan><tspan x="256.01" textLength="3.67" lengthAdjust="spacingAndGlyphs">T</tspan><tspan x="259.03" textLength="1.98" lengthAdjust="spacingAndGlyphs">-</tspan><tspan x="261.21" textLength="4.23" lengthAdjust="spacingAndGlyphs">O</tspan><tspan x="265.61" textLength="3.81" lengthAdjust="spacingAndGlyphs">R</tspan><tspan x="269.47" textLength="3.25" lengthAdjust="spacingAndGlyphs">P</tspan><tspan x="272.7" textLength="4.23" lengthAdjust="spacingAndGlyphs">O</tspan><tspan x="277.15" textLength="1.98" lengthAdjust="spacingAndGlyphs">-</tspan><tspan x="279.27" textLength="3.28" lengthAdjust="spacingAndGlyphs">S</tspan><tspan x="282.71" textLength="3.15" lengthAdjust="spacingAndGlyphs">L</tspan><tspan x="285.85" textLength="3.19" lengthAdjust="spacingAndGlyphs">E</tspan><tspan x="289.29" textLength="3.81" lengthAdjust="spacingAndGlyphs">R</tspan><tspan x="293.15" textLength="3.25" lengthAdjust="spacingAndGlyphs">P</tspan><tspan x="296.35" textLength="2.73" lengthAdjust="spacingAndGlyphs">_</tspan><tspan x="299.11" textLength="3.73" lengthAdjust="spacingAndGlyphs">V</tspan><tspan x="302.55" textLength="2.75" lengthAdjust="spacingAndGlyphs">a</tspan><tspan x="305.82" textLength="2.36" lengthAdjust="spacingAndGlyphs">r</tspan><tspan x="308.09" textLength="2.73" lengthAdjust="spacingAndGlyphs">_</tspan><tspan x="310.87" textLength="4.18" lengthAdjust="spacingAndGlyphs">G</tspan></text>
<polygon points="139.4,289.15 140.22,291.67 142.87,291.67 140.73,293.23 141.55,295.75 139.4,294.19 137.25,295.75 138.07,293.23 135.93,291.67 138.58,291.67" fill="#000080" stroke="#000" stroke-width="0.79" stroke-linejoin="miter"/>
<text y="290.9" font-size="5.84" fill="#000"><tspan x="149.56" textLength="3.57" lengthAdjust="spacingAndGlyphs">B</tspan><tspan x="153.29" textLength="3.31" lengthAdjust="spacingAndGlyphs">e</tspan><tspan x="156.78" textLength="2.64" lengthAdjust="spacingAndGlyphs">s</tspan><tspan x="159.54" textLength="2.05" lengthAdjust="spacingAndGlyphs">t</tspan> <tspan x="163.55" textLength="3.25" lengthAdjust="spacingAndGlyphs">P</tspan><tspan x="166.59" textLength="3.31" lengthAdjust="spacingAndGlyphs">e</tspan><tspan x="169.94" textLength="2.36" lengthAdjust="spacingAndGlyphs">r</tspan><tspan x="172.22" textLength="2.01" lengthAdjust="spacingAndGlyphs">f</tspan><tspan x="174.19" textLength="3.26" lengthAdjust="spacingAndGlyphs">o</tspan><tspan x="177.52" textLength="2.36" lengthAdjust="spacingAndGlyphs">r</tspan><tspan x="179.75" textLength="5.23" lengthAdjust="spacingAndGlyphs">m</tspan><tspan x="185.18" textLength="1.25" lengthAdjust="spacingAndGlyphs">i</tspan><tspan x="186.68" textLength="3.31" lengthAdjust="spacingAndGlyphs">n</tspan><tspan x="190.12" textLength="3.33" lengthAdjust="spacingAndGlyphs">g</tspan> <tspan x="195.4" textLength="4.58" lengthAdjust="spacingAndGlyphs">M</tspan><tspan x="200.12" textLength="3.26" lengthAdjust="spacingAndGlyphs">o</tspan><tspan x="203.49" textLength="3.33" lengthAdjust="spacingAndGlyphs">d</tspan><tspan x="206.99" textLength="3.31" lengthAdjust="spacingAndGlyphs">e</tspan><tspan x="210.47" textLength="1.25" lengthAdjust="spacingAndGlyphs">l</tspan><tspan x="211.95" textLength="1.66" lengthAdjust="spacingAndGlyphs">:</tspan></text>
<text y="296.9" font-size="5.84" fill="#000"><tspan x="149.62" textLength="1.25" lengthAdjust="spacingAndGlyphs">l</tspan><tspan x="151.13" textLength="2.75" lengthAdjust="spacingAndGlyphs">a</tspan><tspan x="154.47" textLength="5.23" lengthAdjust="spacingAndGlyphs">m</tspan><tspan x="159.84" textLength="5.23" lengthAdjust="spacingAndGlyphs">m</tspan><tspan x="165.13" textLength="1.98" lengthAdjust="spacingAndGlyphs">-</tspan><tspan x="167.19" textLength="5.23" lengthAdjust="spacingAndGlyphs">m</tspan><tspan x="172.62" textLength="1.25" lengthAdjust="spacingAndGlyphs">i</tspan><tspan x="174.05" textLength="2.05" lengthAdjust="spacingAndGlyphs">t</tspan><tspan x="176.17" textLength="1.86" lengthAdjust="spacingAndGlyphs">/</tspan><tspan x="178.1" textLength="3.15" lengthAdjust="spacingAndGlyphs">L</tspan><tspan x="181.24" textLength="1.25" lengthAdjust="spacingAndGlyphs">l</tspan><tspan x="182.75" textLength="2.75" lengthAdjust="spacingAndGlyphs">a</tspan><tspan x="186.08" textLength="5.23" lengthAdjust="spacingAndGlyphs">m</tspan><tspan x="191.49" textLength="2.75" lengthAdjust="spacingAndGlyphs">a</tspan><tspan x="194.95" textLength="3.1" lengthAdjust="spacingAndGlyphs">3</tspan><tspan x="198.3" textLength="1.66" lengthAdjust="spacingAndGlyphs">.</tspan><tspan x="200.19" textLength="3.08" lengthAdjust="spacingAndGlyphs">1</tspan><tspan x="203.51" textLength="1.98" lengthAdjust="spacingAndGlyphs">-</tspan><tspan x="205.62" textLength="3.26" lengthAdjust="spacingAndGlyphs">8</tspan><tspan x="209.12" textLength="3.33" lengthAdjust="spacingAndGlyphs">b</tspan><tspan x="212.51" textLength="1.98" lengthAdjust="spacingAndGlyphs">-</tspan><tspan x="214.49" textLength="1.62" lengthAdjust="spacingAndGlyphs">I</tspan><tspan x="216.22" textLength="3.31" lengthAdjust="spacingAndGlyphs">n</tspan><tspan x="219.76" textLength="2.64" lengthAdjust="spacingAndGlyphs">s</tspan><tspan x="222.51" textLength="2.05" lengthAdjust="spacingAndGlyphs">t</tspan><tspan x="224.65" textLength="2.36" lengthAdjust="spacingAndGlyphs">r</tspan><tspan x="226.98" textLength="3.3" lengthAdjust="spacingAndGlyphs">u</tspan><tspan x="230.46" textLength="2.76" lengthAdjust="spacingAndGlyphs">c</tspan><tspan x="233.46" textLength="2.05" lengthAdjust="spacingAndGlyphs">t</tspan><tspan x="235.59" textLength="1.98" lengthAdjust="spacingAndGlyphs">-</tspan><tspan x="237.62" textLength="3.69" lengthAdjust="spacingAndGlyphs">C</tspan><tspan x="241.56" textLength="3.25" lengthAdjust="spacingAndGlyphs">P</tspan><tspan x="244.59" textLength="3.67" lengthAdjust="spacingAndGlyphs">T</tspan><tspan x="247.61" textLength="1.98" lengthAdjust="spacingAndGlyphs">-</tspan><tspan x="249.73" textLength="3.28" lengthAdjust="spacingAndGlyphs">S</tspan><tspan x="253.24" textLength="2.89" lengthAdjust="spacingAndGlyphs">F</tspan><tspan x="256.01" textLength="3.67" lengthAdjust="spacingAndGlyphs">T</tspan><tspan x="259.03" textLength="1.98" lengthAdjust="spacingAndGlyphs">-</tspan><tspan x="261.21" textLength="4.23" lengthAdjust="spacingAndGlyphs">O</tspan><tspan x="265.61" textLength="3.81" lengthAdjust="spacingAndGlyphs">R</tspan><tspan x="269.47" textLength="3.25" lengthAdjust="spacingAndGlyphs">P</tspan><tspan x="272.7" textLength="4.23" lengthAdjust="spacingAndGlyphs">O</tspan><tspan x="277.15" textLength="1.98" lengthAdjust="spacingAndGlyphs">-</tspan><tspan x="279.27" textLength="3.28" lengthAdjust="spacingAndGlyphs">S</tspan><tspan x="282.71" textLength="3.15" lengthAdjust="spacingAndGlyphs">L</tspan><tspan x="285.85" textLength="3.19" lengthAdjust="spacingAndGlyphs">E</tspan><tspan x="289.29" textLength="3.81" lengthAdjust="spacingAndGlyphs">R</tspan><tspan x="293.15" textLength="3.25" lengthAdjust="spacingAndGlyphs">P</tspan><tspan x="296.35" textLength="2.73" lengthAdjust="spacingAndGlyphs">_</tspan><tspan x="299.11" textLength="3.73" lengthAdjust="spacingAndGlyphs">V</tspan><tspan x="302.55" textLength="2.75" lengthAdjust="spacingAndGlyphs">a</tspan><tspan x="305.82" textLength="2.36" lengthAdjust="spacingAndGlyphs">r</tspan><tspan x="308.09" textLength="2.73" lengthAdjust="spacingAndGlyphs">_</tspan><tspan x="310.87" textLength="4.18" lengthAdjust="spacingAndGlyphs">G</tspan></text>
<circle cx="525.8" cy="59.2" r="3.3" fill="#cfe6fb" stroke="#cfe6fb" stroke-width="0.79"/>
<rect x="440.8" y="72.6" width="6.6" height="6.6" fill="#b1c5e9" stroke="#b1c5e9" stroke-width="0.79"/>
<polygon points="557.6,49.6 554.3,56.2 560.9,56.2" fill="#94a4d8" stroke="#94a4d8" stroke-width="0.79" stroke-linejoin="miter"/>
<polygon points="430.8,136.8 433,136.8 433,139 435.2,139 435.2,141.2 433,141.2 433,143.4 430.8,143.4 430.8,141.2 428.6,141.2 428.6,139 430.8,139" fill="#7683c6" stroke="#7683c6" stroke-width="0.79"/>
<polygon points="545.35,64.1 547,65.75 548.65,64.1 550.3,65.75 548.65,67.4 550.3,69.05 548.65,70.7 547,69.05 545.35,70.7 543.7,69.05 545.35,67.4 543.7,65.75" fill="#5963b5" stroke="#5963b5" stroke-width="0.79"/>
<polygon points="544,48.7 548.9,53.6 544,58.5 539.1,53.6" fill="#3b42a3" stroke="#3b42a3" stroke-width="0.79"/>
<circle cx="562.9" cy="70.5" r="3.3" fill="#1e2192" stroke="#1e2192" stroke-width="0.79"/>
<rect x="543.3" y="73" width="6.6" height="6.6" fill="#000080" stroke="#000080" stroke-width="0.79"/>
<polygon points="557.6,48.85 558.51,51.65 561.45,51.65 559.07,53.38 559.98,56.18 557.6,54.45 555.22,56.18 556.13,53.38 553.75,51.65 556.69,51.65" fill="#000080" stroke="#000" stroke-width="0.79" stroke-linejoin="miter"/>
<circle cx="443.9" cy="75.4" r="12.4" fill="none" stroke="#ff0000" stroke-width="1.25"/>
<path d="M385.4 40.8V302M420.17 40.8V302M454.95 40.8V302M489.72 40.8V302M524.5 40.8V302M559.27 40.8V302M594.05 40.8V302M628.83 40.8V302M385.5 301.07H647.2M385.5 266.39H647.2M385.5 231.72H647.2M385.5 197.04H647.2M385.5 162.36H647.2M385.5 127.68H647.2M385.5 93H647.2M385.5 58.32H647.2" stroke="#b0b0b0" stroke-width="0.66" fill="none"/>
<path d="M396 291.2L612.4 75" stroke="#000" stroke-width="1.18" stroke-dasharray="4.37 1.89" stroke-dashoffset="0" fill="none"/>
<rect x="404.9" y="93.2" width="83.5" height="16.7" fill="#fff"/>
<text x="410.37" y="104.7" font-size="8.66" fill="#ff0000" stroke="#ff0000" stroke-width="0.22">CPT-Base-SLERP</text>
<rect x="385.5" y="40.8" width="261.7" height="261.2" fill="none" stroke="#000" stroke-width="0.7"/>
<path d="M385.4 302V304.75M420.17 302V304.75M454.95 302V304.75M489.72 302V304.75M524.5 302V304.75M559.27 302V304.75M594.05 302V304.75M628.83 302V304.75M385.5 301.07H382.75M385.5 266.39H382.75M385.5 231.72H382.75M385.5 197.04H382.75M385.5 162.36H382.75M385.5 127.68H382.75M385.5 93H382.75M385.5 58.32H382.75" stroke="#000" stroke-width="0.63" fill="none"/>
<text y="313.45" font-size="8.43" fill="#000"><tspan x="376.83" textLength="4.66" lengthAdjust="spacingAndGlyphs">0</tspan><tspan x="381.76" textLength="2.4" lengthAdjust="spacingAndGlyphs">.</tspan><tspan x="384.42" textLength="4.66" lengthAdjust="spacingAndGlyphs">4</tspan><tspan x="389.57" textLength="4.4" lengthAdjust="spacingAndGlyphs">5</tspan></text>
<text y="313.45" font-size="8.43" fill="#000"><tspan x="411.53" textLength="4.66" lengthAdjust="spacingAndGlyphs">0</tspan><tspan x="416.45" textLength="2.4" lengthAdjust="spacingAndGlyphs">.</tspan><tspan x="419.21" textLength="4.4" lengthAdjust="spacingAndGlyphs">5</tspan><tspan x="424.17" textLength="4.66" lengthAdjust="spacingAndGlyphs">0</tspan></text>
<text y="313.45" font-size="8.43" fill="#000"><tspan x="446.38" textLength="4.66" lengthAdjust="spacingAndGlyphs">0</tspan><tspan x="451.31" textLength="2.4" lengthAdjust="spacingAndGlyphs">.</tspan><tspan x="454.07" textLength="4.4" lengthAdjust="spacingAndGlyphs">5</tspan><tspan x="459.12" textLength="4.4" lengthAdjust="spacingAndGlyphs">5</tspan></text>
<text y="313.45" font-size="8.43" fill="#000"><tspan x="481.08" textLength="4.66" lengthAdjust="spacingAndGlyphs">0</tspan><tspan x="486" textLength="2.4" lengthAdjust="spacingAndGlyphs">.</tspan><tspan x="488.58" textLength="4.83" lengthAdjust="spacingAndGlyphs">6</tspan><tspan x="493.72" textLength="4.66" lengthAdjust="spacingAndGlyphs">0</tspan></text>
<text y="313.45" font-size="8.43" fill="#000"><tspan x="515.93" textLength="4.66" lengthAdjust="spacingAndGlyphs">0</tspan><tspan x="520.86" textLength="2.4" lengthAdjust="spacingAndGlyphs">.</tspan><tspan x="523.44" textLength="4.83" lengthAdjust="spacingAndGlyphs">6</tspan><tspan x="528.67" textLength="4.4" lengthAdjust="spacingAndGlyphs">5</tspan></text>
<text y="313.45" font-size="8.43" fill="#000"><tspan x="550.63" textLength="4.66" lengthAdjust="spacingAndGlyphs">0</tspan><tspan x="555.55" textLength="2.4" lengthAdjust="spacingAndGlyphs">.</tspan><tspan x="558.24" textLength="4.56" lengthAdjust="spacingAndGlyphs">7</tspan><tspan x="563.27" textLength="4.66" lengthAdjust="spacingAndGlyphs">0</tspan></text>
<text y="313.45" font-size="8.43" fill="#000"><tspan x="585.48" textLength="4.66" lengthAdjust="spacingAndGlyphs">0</tspan><tspan x="590.41" textLength="2.4" lengthAdjust="spacingAndGlyphs">.</tspan><tspan x="593.1" textLength="4.56" lengthAdjust="spacingAndGlyphs">7</tspan><tspan x="598.22" textLength="4.4" lengthAdjust="spacingAndGlyphs">5</tspan></text>
<text y="313.45" font-size="8.43" fill="#000"><tspan x="620.18" textLength="4.66" lengthAdjust="spacingAndGlyphs">0</tspan><tspan x="625.1" textLength="2.4" lengthAdjust="spacingAndGlyphs">.</tspan><tspan x="627.74" textLength="4.71" lengthAdjust="spacingAndGlyphs">8</tspan><tspan x="632.82" textLength="4.66" lengthAdjust="spacingAndGlyphs">0</tspan></text>
<text y="303.97" font-size="8.43" fill="#000"><tspan x="363.09" textLength="4.66" lengthAdjust="spacingAndGlyphs">0</tspan><tspan x="368.01" textLength="2.4" lengthAdjust="spacingAndGlyphs">.</tspan><tspan x="370.68" textLength="4.66" lengthAdjust="spacingAndGlyphs">4</tspan><tspan x="375.83" textLength="4.4" lengthAdjust="spacingAndGlyphs">5</tspan></text>
<text y="269.29" font-size="8.43" fill="#000"><tspan x="362.93" textLength="4.66" lengthAdjust="spacingAndGlyphs">0</tspan><tspan x="367.85" textLength="2.4" lengthAdjust="spacingAndGlyphs">.</tspan><tspan x="370.61" textLength="4.4" lengthAdjust="spacingAndGlyphs">5</tspan><tspan x="375.57" textLength="4.66" lengthAdjust="spacingAndGlyphs">0</tspan></text>
<text y="234.62" font-size="8.43" fill="#000"><tspan x="363.09" textLength="4.66" lengthAdjust="spacingAndGlyphs">0</tspan><tspan x="368.01" textLength="2.4" lengthAdjust="spacingAndGlyphs">.</tspan><tspan x="370.77" textLength="4.4" lengthAdjust="spacingAndGlyphs">5</tspan><tspan x="375.83" textLength="4.4" lengthAdjust="spacingAndGlyphs">5</tspan></text>
<text y="199.94" font-size="8.43" fill="#000"><tspan x="362.93" textLength="4.66" lengthAdjust="spacingAndGlyphs">0</tspan><tspan x="367.85" textLength="2.4" lengthAdjust="spacingAndGlyphs">.</tspan><tspan x="370.43" textLength="4.83" lengthAdjust="spacingAndGlyphs">6</tspan><tspan x="375.57" textLength="4.66" lengthAdjust="spacingAndGlyphs">0</tspan></text>
<text y="165.26" font-size="8.43" fill="#000"><tspan x="363.09" textLength="4.66" lengthAdjust="spacingAndGlyphs">0</tspan><tspan x="368.01" textLength="2.4" lengthAdjust="spacingAndGlyphs">.</tspan><tspan x="370.6" textLength="4.83" lengthAdjust="spacingAndGlyphs">6</tspan><tspan x="375.83" textLength="4.4" lengthAdjust="spacingAndGlyphs">5</tspan></text>
<text y="130.58" font-size="8.43" fill="#000"><tspan x="362.93" textLength="4.66" lengthAdjust="spacingAndGlyphs">0</tspan><tspan x="367.85" textLength="2.4" lengthAdjust="spacingAndGlyphs">.</tspan><tspan x="370.55" textLength="4.56" lengthAdjust="spacingAndGlyphs">7</tspan><tspan x="375.57" textLength="4.66" lengthAdjust="spacingAndGlyphs">0</tspan></text>
<text y="95.9" font-size="8.43" fill="#000"><tspan x="363.09" textLength="4.66" lengthAdjust="spacingAndGlyphs">0</tspan><tspan x="368.01" textLength="2.4" lengthAdjust="spacingAndGlyphs">.</tspan><tspan x="370.71" textLength="4.56" lengthAdjust="spacingAndGlyphs">7</tspan><tspan x="375.83" textLength="4.4" lengthAdjust="spacingAndGlyphs">5</tspan></text>
<text y="61.22" font-size="8.43" fill="#000"><tspan x="362.93" textLength="4.66" lengthAdjust="spacingAndGlyphs">0</tspan><tspan x="367.85" textLength="2.4" lengthAdjust="spacingAndGlyphs">.</tspan><tspan x="370.49" textLength="4.71" lengthAdjust="spacingAndGlyphs">8</tspan><tspan x="375.57" textLength="4.66" lengthAdjust="spacingAndGlyphs">0</tspan></text>
<text y="36.65" font-size="10.03" fill="#000"><tspan x="409.2" textLength="6.36" lengthAdjust="spacingAndGlyphs">A</tspan><tspan x="415.57" textLength="4.74" lengthAdjust="spacingAndGlyphs">c</tspan><tspan x="420.72" textLength="3.51" lengthAdjust="spacingAndGlyphs">t</tspan><tspan x="424.51" textLength="5.67" lengthAdjust="spacingAndGlyphs">u</tspan><tspan x="430.57" textLength="4.73" lengthAdjust="spacingAndGlyphs">a</tspan><tspan x="436.4" textLength="2.15" lengthAdjust="spacingAndGlyphs">l</tspan> <tspan x="442.04" textLength="5.11" lengthAdjust="spacingAndGlyphs">v</tspan><tspan x="447.65" textLength="4.54" lengthAdjust="spacingAndGlyphs">s</tspan> <tspan x="455.58" textLength="5.47" lengthAdjust="spacingAndGlyphs">E</tspan><tspan x="461.46" textLength="5.25" lengthAdjust="spacingAndGlyphs">x</tspan><tspan x="467.09" textLength="5.72" lengthAdjust="spacingAndGlyphs">p</tspan><tspan x="472.99" textLength="5.68" lengthAdjust="spacingAndGlyphs">e</tspan><tspan x="478.84" textLength="4.74" lengthAdjust="spacingAndGlyphs">c</tspan><tspan x="483.99" textLength="3.51" lengthAdjust="spacingAndGlyphs">t</tspan><tspan x="487.72" textLength="5.68" lengthAdjust="spacingAndGlyphs">e</tspan><tspan x="493.55" textLength="5.72" lengthAdjust="spacingAndGlyphs">d</tspan> <tspan x="502.71" textLength="5.62" lengthAdjust="spacingAndGlyphs">S</tspan><tspan x="508.59" textLength="4.74" lengthAdjust="spacingAndGlyphs">c</tspan><tspan x="513.77" textLength="5.59" lengthAdjust="spacingAndGlyphs">o</tspan><tspan x="519.49" textLength="4.05" lengthAdjust="spacingAndGlyphs">r</tspan><tspan x="523.23" textLength="5.68" lengthAdjust="spacingAndGlyphs">e</tspan><tspan x="529.23" textLength="4.54" lengthAdjust="spacingAndGlyphs">s</tspan> <tspan x="536.94" textLength="3.45" lengthAdjust="spacingAndGlyphs">f</tspan><tspan x="540.33" textLength="5.59" lengthAdjust="spacingAndGlyphs">o</tspan><tspan x="546.05" textLength="4.05" lengthAdjust="spacingAndGlyphs">r</tspan> <tspan x="553.15" textLength="5.62" lengthAdjust="spacingAndGlyphs">S</tspan><tspan x="559.05" textLength="5.41" lengthAdjust="spacingAndGlyphs">L</tspan><tspan x="564.45" textLength="5.47" lengthAdjust="spacingAndGlyphs">E</tspan><tspan x="570.36" textLength="6.53" lengthAdjust="spacingAndGlyphs">R</tspan><tspan x="576.99" textLength="5.58" lengthAdjust="spacingAndGlyphs">P</tspan> <tspan x="585.49" textLength="6.4" lengthAdjust="spacingAndGlyphs">V</tspan><tspan x="591.4" textLength="4.73" lengthAdjust="spacingAndGlyphs">a</tspan><tspan x="597.02" textLength="4.05" lengthAdjust="spacingAndGlyphs">r</tspan><tspan x="601.12" textLength="2.15" lengthAdjust="spacingAndGlyphs">i</tspan><tspan x="603.71" textLength="4.73" lengthAdjust="spacingAndGlyphs">a</tspan><tspan x="609.48" textLength="5.67" lengthAdjust="spacingAndGlyphs">n</tspan><tspan x="615.36" textLength="3.51" lengthAdjust="spacingAndGlyphs">t</tspan><tspan x="619.27" textLength="4.54" lengthAdjust="spacingAndGlyphs">s</tspan></text>
<text y="325.6" font-size="10.03" fill="#000"><tspan x="451.96" textLength="5.47" lengthAdjust="spacingAndGlyphs">E</tspan><tspan x="457.83" textLength="5.25" lengthAdjust="spacingAndGlyphs">x</tspan><tspan x="463.47" textLength="5.72" lengthAdjust="spacingAndGlyphs">p</tspan><tspan x="469.37" textLength="5.68" lengthAdjust="spacingAndGlyphs">e</tspan><tspan x="475.22" textLength="4.74" lengthAdjust="spacingAndGlyphs">c</tspan><tspan x="480.37" textLength="3.51" lengthAdjust="spacingAndGlyphs">t</tspan><tspan x="484.1" textLength="5.68" lengthAdjust="spacingAndGlyphs">e</tspan><tspan x="489.92" textLength="5.72" lengthAdjust="spacingAndGlyphs">d</tspan> <tspan x="499.16" textLength="2.66" lengthAdjust="spacingAndGlyphs">(</tspan><tspan x="502.59" textLength="6.36" lengthAdjust="spacingAndGlyphs">A</tspan><tspan x="508.69" textLength="5.11" lengthAdjust="spacingAndGlyphs">v</tspan><tspan x="514.13" textLength="5.68" lengthAdjust="spacingAndGlyphs">e</tspan><tspan x="519.9" textLength="4.05" lengthAdjust="spacingAndGlyphs">r</tspan><tspan x="523.96" textLength="4.73" lengthAdjust="spacingAndGlyphs">a</tspan><tspan x="529.64" textLength="5.72" lengthAdjust="spacingAndGlyphs">g</tspan><tspan x="535.64" textLength="5.68" lengthAdjust="spacingAndGlyphs">e</tspan><tspan x="541.47" textLength="5.72" lengthAdjust="spacingAndGlyphs">d</tspan><tspan x="548.09" textLength="2.66" lengthAdjust="spacingAndGlyphs">)</tspan> <tspan x="554.32" textLength="5.62" lengthAdjust="spacingAndGlyphs">S</tspan><tspan x="560.2" textLength="4.74" lengthAdjust="spacingAndGlyphs">c</tspan><tspan x="565.39" textLength="5.59" lengthAdjust="spacingAndGlyphs">o</tspan><tspan x="571.1" textLength="4.05" lengthAdjust="spacingAndGlyphs">r</tspan><tspan x="574.84" textLength="5.68" lengthAdjust="spacingAndGlyphs">e</tspan></text>
<text transform="rotate(-90)" y="357.5" font-size="10.03" fill="#000"><tspan x="-224.96" textLength="6.36" lengthAdjust="spacingAndGlyphs">A</tspan><tspan x="-218.59" textLength="4.74" lengthAdjust="spacingAndGlyphs">c</tspan><tspan x="-213.44" textLength="3.51" lengthAdjust="spacingAndGlyphs">t</tspan><tspan x="-209.66" textLength="5.67" lengthAdjust="spacingAndGlyphs">u</tspan><tspan x="-203.6" textLength="4.73" lengthAdjust="spacingAndGlyphs">a</tspan><tspan x="-197.77" textLength="2.15" lengthAdjust="spacingAndGlyphs">l</tspan> <tspan x="-192.28" textLength="7.27" lengthAdjust="spacingAndGlyphs">O</tspan><tspan x="-184.73" textLength="5.72" lengthAdjust="spacingAndGlyphs">b</tspan><tspan x="-178.66" textLength="4.54" lengthAdjust="spacingAndGlyphs">s</tspan><tspan x="-173.9" textLength="5.68" lengthAdjust="spacingAndGlyphs">e</tspan><tspan x="-168.14" textLength="4.05" lengthAdjust="spacingAndGlyphs">r</tspan><tspan x="-164.03" textLength="5.11" lengthAdjust="spacingAndGlyphs">v</tspan><tspan x="-158.6" textLength="5.68" lengthAdjust="spacingAndGlyphs">e</tspan><tspan x="-152.77" textLength="5.72" lengthAdjust="spacingAndGlyphs">d</tspan> <tspan x="-143.61" textLength="5.62" lengthAdjust="spacingAndGlyphs">S</tspan><tspan x="-137.73" textLength="4.74" lengthAdjust="spacingAndGlyphs">c</tspan><tspan x="-132.55" textLength="5.59" lengthAdjust="spacingAndGlyphs">o</tspan><tspan x="-126.83" textLength="4.05" lengthAdjust="spacingAndGlyphs">r</tspan><tspan x="-123.09" textLength="5.68" lengthAdjust="spacingAndGlyphs">e</tspan></text>
<text x="343.36" y="33.2" font-size="14.2" fill="#000" stroke="#000" stroke-width="0.25">B</text>
<rect x="470.5" y="219.6" width="173.9" height="79.6" rx="1.1" fill="#fff" fill-opacity="0.8" stroke="#cccccc" stroke-opacity="0.8" stroke-width="0.785"/>
<circle cx="477.7" cy="224.2" r="3.3" fill="#cfe6fb" stroke="#cfe6fb" stroke-width="0.79"/>
<text y="225.7" font-size="5.87" fill="#000"><tspan x="487.42" textLength="1.26" lengthAdjust="spacingAndGlyphs">l</tspan><tspan x="488.94" textLength="2.77" lengthAdjust="spacingAndGlyphs">a</tspan><tspan x="492.29" textLength="5.26" lengthAdjust="spacingAndGlyphs">m</tspan><tspan x="497.69" textLength="5.26" lengthAdjust="spacingAndGlyphs">m</tspan><tspan x="503.01" textLength="1.99" lengthAdjust="spacingAndGlyphs">-</tspan><tspan x="505.09" textLength="5.26" lengthAdjust="spacingAndGlyphs">m</tspan><tspan x="510.54" textLength="1.26" lengthAdjust="spacingAndGlyphs">i</tspan><tspan x="511.98" textLength="2.06" lengthAdjust="spacingAndGlyphs">t</tspan><tspan x="514.11" textLength="1.87" lengthAdjust="spacingAndGlyphs">/</tspan><tspan x="516.06" textLength="5.26" lengthAdjust="spacingAndGlyphs">m</tspan><tspan x="521.52" textLength="1.26" lengthAdjust="spacingAndGlyphs">i</tspan><tspan x="523.07" textLength="2.66" lengthAdjust="spacingAndGlyphs">s</tspan><tspan x="525.84" textLength="2.06" lengthAdjust="spacingAndGlyphs">t</tspan><tspan x="527.99" textLength="2.37" lengthAdjust="spacingAndGlyphs">r</tspan><tspan x="530.37" textLength="2.77" lengthAdjust="spacingAndGlyphs">a</tspan><tspan x="533.79" textLength="1.26" lengthAdjust="spacingAndGlyphs">l</tspan><tspan x="535.19" textLength="1.99" lengthAdjust="spacingAndGlyphs">-</tspan><tspan x="537.34" textLength="3.18" lengthAdjust="spacingAndGlyphs">7</tspan><tspan x="540.81" textLength="3.59" lengthAdjust="spacingAndGlyphs">B</tspan><tspan x="544.51" textLength="1.99" lengthAdjust="spacingAndGlyphs">-</tspan><tspan x="546.41" textLength="3.59" lengthAdjust="spacingAndGlyphs">B</tspan><tspan x="550.23" textLength="2.77" lengthAdjust="spacingAndGlyphs">a</tspan><tspan x="553.66" textLength="2.66" lengthAdjust="spacingAndGlyphs">s</tspan><tspan x="556.44" textLength="3.33" lengthAdjust="spacingAndGlyphs">e</tspan><tspan x="559.81" textLength="1.99" lengthAdjust="spacingAndGlyphs">-</tspan><tspan x="561.79" textLength="2.99" lengthAdjust="spacingAndGlyphs">v</tspan><tspan x="565.07" textLength="3.25" lengthAdjust="spacingAndGlyphs">0</tspan><tspan x="568.5" textLength="1.67" lengthAdjust="spacingAndGlyphs">.</tspan><tspan x="570.42" textLength="3.12" lengthAdjust="spacingAndGlyphs">3</tspan><tspan x="573.74" textLength="1.99" lengthAdjust="spacingAndGlyphs">-</tspan><tspan x="575.79" textLength="3.71" lengthAdjust="spacingAndGlyphs">C</tspan><tspan x="579.75" textLength="3.27" lengthAdjust="spacingAndGlyphs">P</tspan><tspan x="582.79" textLength="3.69" lengthAdjust="spacingAndGlyphs">T</tspan><tspan x="585.83" textLength="1.99" lengthAdjust="spacingAndGlyphs">-</tspan><tspan x="587.96" textLength="3.29" lengthAdjust="spacingAndGlyphs">S</tspan><tspan x="591.49" textLength="2.9" lengthAdjust="spacingAndGlyphs">F</tspan><tspan x="594.27" textLength="3.69" lengthAdjust="spacingAndGlyphs">T</tspan><tspan x="597.31" textLength="1.99" lengthAdjust="spacingAndGlyphs">-</tspan><tspan x="599.51" textLength="4.26" lengthAdjust="spacingAndGlyphs">O</tspan><tspan x="603.93" textLength="3.83" lengthAdjust="spacingAndGlyphs">R</tspan><tspan x="607.81" textLength="3.27" lengthAdjust="spacingAndGlyphs">P</tspan><tspan x="611.06" textLength="4.26" lengthAdjust="spacingAndGlyphs">O</tspan><tspan x="615.53" textLength="1.99" lengthAdjust="spacingAndGlyphs">-</tspan><tspan x="617.66" textLength="3.29" lengthAdjust="spacingAndGlyphs">S</tspan><tspan x="621.12" textLength="3.17" lengthAdjust="spacingAndGlyphs">L</tspan><tspan x="624.28" textLength="3.2" lengthAdjust="spacingAndGlyphs">E</tspan><tspan x="627.74" textLength="3.83" lengthAdjust="spacingAndGlyphs">R</tspan><tspan x="631.62" textLength="3.27" lengthAdjust="spacingAndGlyphs">P</tspan></text>
<rect x="474.4" y="229" width="6.6" height="6.6" fill="#b1c5e9" stroke="#b1c5e9" stroke-width="0.79"/>
<text y="233.8" font-size="5.87" fill="#000"><tspan x="487.42" textLength="1.26" lengthAdjust="spacingAndGlyphs">l</tspan><tspan x="488.94" textLength="2.77" lengthAdjust="spacingAndGlyphs">a</tspan><tspan x="492.29" textLength="5.26" lengthAdjust="spacingAndGlyphs">m</tspan><tspan x="497.69" textLength="5.26" lengthAdjust="spacingAndGlyphs">m</tspan><tspan x="503.01" textLength="1.99" lengthAdjust="spacingAndGlyphs">-</tspan><tspan x="505.09" textLength="5.26" lengthAdjust="spacingAndGlyphs">m</tspan><tspan x="510.54" textLength="1.26" lengthAdjust="spacingAndGlyphs">i</tspan><tspan x="511.98" textLength="2.06" lengthAdjust="spacingAndGlyphs">t</tspan><tspan x="514.11" textLength="1.87" lengthAdjust="spacingAndGlyphs">/</tspan><tspan x="516.06" textLength="5.26" lengthAdjust="spacingAndGlyphs">m</tspan><tspan x="521.52" textLength="1.26" lengthAdjust="spacingAndGlyphs">i</tspan><tspan x="523.07" textLength="2.66" lengthAdjust="spacingAndGlyphs">s</tspan><tspan x="525.84" textLength="2.06" lengthAdjust="spacingAndGlyphs">t</tspan><tspan x="527.99" textLength="2.37" lengthAdjust="spacingAndGlyphs">r</tspan><tspan x="530.37" textLength="2.77" lengthAdjust="spacingAndGlyphs">a</tspan><tspan x="533.79" textLength="1.26" lengthAdjust="spacingAndGlyphs">l</tspan><tspan x="535.19" textLength="1.99" lengthAdjust="spacingAndGlyphs">-</tspan><tspan x="537.34" textLength="3.18" lengthAdjust="spacingAndGlyphs">7</tspan><tspan x="540.81" textLength="3.59" lengthAdjust="spacingAndGlyphs">B</tspan><tspan x="544.51" textLength="1.99" lengthAdjust="spacingAndGlyphs">-</tspan><tspan x="546.41" textLength="3.59" lengthAdjust="spacingAndGlyphs">B</tspan><tspan x="550.23" textLength="2.77" lengthAdjust="spacingAndGlyphs">a</tspan><tspan x="553.66" textLength="2.66" lengthAdjust="spacingAndGlyphs">s</tspan><tspan x="556.44" textLength="3.33" lengthAdjust="spacingAndGlyphs">e</tspan><tspan x="559.81" textLength="1.99" lengthAdjust="spacingAndGlyphs">-</tspan><tspan x="561.79" textLength="2.99" lengthAdjust="spacingAndGlyphs">v</tspan><tspan x="565.07" textLength="3.25" lengthAdjust="spacingAndGlyphs">0</tspan><tspan x="568.5" textLength="1.67" lengthAdjust="spacingAndGlyphs">.</tspan><tspan x="570.42" textLength="3.12" lengthAdjust="spacingAndGlyphs">3</tspan><tspan x="573.74" textLength="1.99" lengthAdjust="spacingAndGlyphs">-</tspan><tspan x="575.79" textLength="3.71" lengthAdjust="spacingAndGlyphs">C</tspan><tspan x="579.75" textLength="3.27" lengthAdjust="spacingAndGlyphs">P</tspan><tspan x="582.79" textLength="3.69" lengthAdjust="spacingAndGlyphs">T</tspan><tspan x="585.83" textLength="1.99" lengthAdjust="spacingAndGlyphs">-</tspan><tspan x="587.96" textLength="3.29" lengthAdjust="spacingAndGlyphs">S</tspan><tspan x="591.42" textLength="3.17" lengthAdjust="spacingAndGlyphs">L</tspan><tspan x="594.58" textLength="3.2" lengthAdjust="spacingAndGlyphs">E</tspan><tspan x="598.03" textLength="3.83" lengthAdjust="spacingAndGlyphs">R</tspan><tspan x="601.92" textLength="3.27" lengthAdjust="spacingAndGlyphs">P</tspan></text>
<polygon points="477.7,237.1 474.4,243.7 481,243.7" fill="#94a4d8" stroke="#94a4d8" stroke-width="0.79" stroke-linejoin="miter"/>
<text y="241.9" font-size="5.87" fill="#000"><tspan x="487.42" textLength="1.26" lengthAdjust="spacingAndGlyphs">l</tspan><tspan x="488.94" textLength="2.77" lengthAdjust="spacingAndGlyphs">a</tspan><tspan x="492.29" textLength="5.26" lengthAdjust="spacingAndGlyphs">m</tspan><tspan x="497.69" textLength="5.26" lengthAdjust="spacingAndGlyphs">m</tspan><tspan x="503.01" textLength="1.99" lengthAdjust="spacingAndGlyphs">-</tspan><tspan x="505.09" textLength="5.26" lengthAdjust="spacingAndGlyphs">m</tspan><tspan x="510.54" textLength="1.26" lengthAdjust="spacingAndGlyphs">i</tspan><tspan x="511.98" textLength="2.06" lengthAdjust="spacingAndGlyphs">t</tspan><tspan x="514.11" textLength="1.87" lengthAdjust="spacingAndGlyphs">/</tspan><tspan x="516.06" textLength="5.26" lengthAdjust="spacingAndGlyphs">m</tspan><tspan x="521.52" textLength="1.26" lengthAdjust="spacingAndGlyphs">i</tspan><tspan x="523.07" textLength="2.66" lengthAdjust="spacingAndGlyphs">s</tspan><tspan x="525.84" textLength="2.06" lengthAdjust="spacingAndGlyphs">t</tspan><tspan x="527.99" textLength="2.37" lengthAdjust="spacingAndGlyphs">r</tspan><tspan x="530.37" textLength="2.77" lengthAdjust="spacingAndGlyphs">a</tspan><tspan x="533.79" textLength="1.26" lengthAdjust="spacingAndGlyphs">l</tspan><tspan x="535.19" textLength="1.99" lengthAdjust="spacingAndGlyphs">-</tspan><tspan x="537.34" textLength="3.18" lengthAdjust="spacingAndGlyphs">7</tspan><tspan x="540.81" textLength="3.59" lengthAdjust="spacingAndGlyphs">B</tspan><tspan x="544.51" textLength="1.99" lengthAdjust="spacingAndGlyphs">-</tspan><tspan x="546.41" textLength="3.59" lengthAdjust="spacingAndGlyphs">B</tspan><tspan x="550.23" textLength="2.77" lengthAdjust="spacingAndGlyphs">a</tspan><tspan x="553.66" textLength="2.66" lengthAdjust="spacingAndGlyphs">s</tspan><tspan x="556.44" textLength="3.33" lengthAdjust="spacingAndGlyphs">e</tspan><tspan x="559.81" textLength="1.99" lengthAdjust="spacingAndGlyphs">-</tspan><tspan x="561.79" textLength="2.99" lengthAdjust="spacingAndGlyphs">v</tspan><tspan x="565.07" textLength="3.25" lengthAdjust="spacingAndGlyphs">0</tspan><tspan x="568.5" textLength="1.67" lengthAdjust="spacingAndGlyphs">.</tspan><tspan x="570.42" textLength="3.12" lengthAdjust="spacingAndGlyphs">3</tspan><tspan x="573.74" textLength="1.99" lengthAdjust="spacingAndGlyphs">-</tspan><tspan x="575.79" textLength="3.71" lengthAdjust="spacingAndGlyphs">C</tspan><tspan x="579.75" textLength="3.27" lengthAdjust="spacingAndGlyphs">P</tspan><tspan x="582.79" textLength="3.69" lengthAdjust="spacingAndGlyphs">T</tspan><tspan x="585.83" textLength="1.99" lengthAdjust="spacingAndGlyphs">-</tspan><tspan x="587.96" textLength="3.29" lengthAdjust="spacingAndGlyphs">S</tspan><tspan x="591.49" textLength="2.9" lengthAdjust="spacingAndGlyphs">F</tspan><tspan x="594.27" textLength="3.69" lengthAdjust="spacingAndGlyphs">T</tspan><tspan x="597.31" textLength="1.99" lengthAdjust="spacingAndGlyphs">-</tspan><tspan x="599.44" textLength="3.29" lengthAdjust="spacingAndGlyphs">S</tspan><tspan x="602.9" textLength="3.17" lengthAdjust="spacingAndGlyphs">L</tspan><tspan x="606.06" textLength="3.2" lengthAdjust="spacingAndGlyphs">E</tspan><tspan x="609.52" textLength="3.83" lengthAdjust="spacingAndGlyphs">R</tspan><tspan x="613.4" textLength="3.27" lengthAdjust="spacingAndGlyphs">P</tspan></text>
<polygon points="476.6,245.2 478.8,245.2 478.8,247.4 481,247.4 481,249.6 478.8,249.6 478.8,251.8 476.6,251.8 476.6,249.6 474.4,249.6 474.4,247.4 476.6,247.4" fill="#7683c6" stroke="#7683c6" stroke-width="0.79"/>
<text y="250" font-size="5.87" fill="#000"><tspan x="487.42" textLength="1.26" lengthAdjust="spacingAndGlyphs">l</tspan><tspan x="488.94" textLength="2.77" lengthAdjust="spacingAndGlyphs">a</tspan><tspan x="492.29" textLength="5.26" lengthAdjust="spacingAndGlyphs">m</tspan><tspan x="497.69" textLength="5.26" lengthAdjust="spacingAndGlyphs">m</tspan><tspan x="503.01" textLength="1.99" lengthAdjust="spacingAndGlyphs">-</tspan><tspan x="505.09" textLength="5.26" lengthAdjust="spacingAndGlyphs">m</tspan><tspan x="510.54" textLength="1.26" lengthAdjust="spacingAndGlyphs">i</tspan><tspan x="511.98" textLength="2.06" lengthAdjust="spacingAndGlyphs">t</tspan><tspan x="514.11" textLength="1.87" lengthAdjust="spacingAndGlyphs">/</tspan><tspan x="516.06" textLength="5.26" lengthAdjust="spacingAndGlyphs">m</tspan><tspan x="521.52" textLength="1.26" lengthAdjust="spacingAndGlyphs">i</tspan><tspan x="523.07" textLength="2.66" lengthAdjust="spacingAndGlyphs">s</tspan><tspan x="525.84" textLength="2.06" lengthAdjust="spacingAndGlyphs">t</tspan><tspan x="527.99" textLength="2.37" lengthAdjust="spacingAndGlyphs">r</tspan><tspan x="530.37" textLength="2.77" lengthAdjust="spacingAndGlyphs">a</tspan><tspan x="533.79" textLength="1.26" lengthAdjust="spacingAndGlyphs">l</tspan><tspan x="535.19" textLength="1.99" lengthAdjust="spacingAndGlyphs">-</tspan><tspan x="537.34" textLength="3.18" lengthAdjust="spacingAndGlyphs">7</tspan><tspan x="540.81" textLength="3.59" lengthAdjust="spacingAndGlyphs">B</tspan><tspan x="544.51" textLength="1.99" lengthAdjust="spacingAndGlyphs">-</tspan><tspan x="546.41" textLength="3.59" lengthAdjust="spacingAndGlyphs">B</tspan><tspan x="550.23" textLength="2.77" lengthAdjust="spacingAndGlyphs">a</tspan><tspan x="553.66" textLength="2.66" lengthAdjust="spacingAndGlyphs">s</tspan><tspan x="556.44" textLength="3.33" lengthAdjust="spacingAndGlyphs">e</tspan><tspan x="559.81" textLength="1.99" lengthAdjust="spacingAndGlyphs">-</tspan><tspan x="561.79" textLength="2.99" lengthAdjust="spacingAndGlyphs">v</tspan><tspan x="565.07" textLength="3.25" lengthAdjust="spacingAndGlyphs">0</tspan><tspan x="568.5" textLength="1.67" lengthAdjust="spacingAndGlyphs">.</tspan><tspan x="570.42" textLength="3.12" lengthAdjust="spacingAndGlyphs">3</tspan><tspan x="573.74" textLength="1.99" lengthAdjust="spacingAndGlyphs">-</tspan><tspan x="575.79" textLength="3.71" lengthAdjust="spacingAndGlyphs">C</tspan><tspan x="579.75" textLength="3.27" lengthAdjust="spacingAndGlyphs">P</tspan><tspan x="582.79" textLength="3.69" lengthAdjust="spacingAndGlyphs">T</tspan><tspan x="585.83" textLength="1.99" lengthAdjust="spacingAndGlyphs">-</tspan><tspan x="587.96" textLength="3.29" lengthAdjust="spacingAndGlyphs">S</tspan><tspan x="591.49" textLength="2.9" lengthAdjust="spacingAndGlyphs">F</tspan><tspan x="594.27" textLength="3.69" lengthAdjust="spacingAndGlyphs">T</tspan><tspan x="597.31" textLength="1.99" lengthAdjust="spacingAndGlyphs">-</tspan><tspan x="599.38" textLength="4.14" lengthAdjust="spacingAndGlyphs">D</tspan><tspan x="603.71" textLength="3.27" lengthAdjust="spacingAndGlyphs">P</tspan><tspan x="606.96" textLength="4.26" lengthAdjust="spacingAndGlyphs">O</tspan><tspan x="611.43" textLength="1.99" lengthAdjust="spacingAndGlyphs">-</tspan><tspan x="613.56" textLength="3.29" lengthAdjust="spacingAndGlyphs">S</tspan><tspan x="617.02" textLength="3.17" lengthAdjust="spacingAndGlyphs">L</tspan><tspan x="620.18" textLength="3.2" lengthAdjust="spacingAndGlyphs">E</tspan><tspan x="623.64" textLength="3.83" lengthAdjust="spacingAndGlyphs">R</tspan><tspan x="627.52" textLength="3.27" lengthAdjust="spacingAndGlyphs">P</tspan></text>
<polygon points="476.05,253.3 477.7,254.95 479.35,253.3 481,254.95 479.35,256.6 481,258.25 479.35,259.9 477.7,258.25 476.05,259.9 474.4,258.25 476.05,256.6 474.4,254.95" fill="#5963b5" stroke="#5963b5" stroke-width="0.79"/>
<text y="258.1" font-size="5.87" fill="#000"><tspan x="487.42" textLength="1.26" lengthAdjust="spacingAndGlyphs">l</tspan><tspan x="488.94" textLength="2.77" lengthAdjust="spacingAndGlyphs">a</tspan><tspan x="492.29" textLength="5.26" lengthAdjust="spacingAndGlyphs">m</tspan><tspan x="497.69" textLength="5.26" lengthAdjust="spacingAndGlyphs">m</tspan><tspan x="503.01" textLength="1.99" lengthAdjust="spacingAndGlyphs">-</tspan><tspan x="505.09" textLength="5.26" lengthAdjust="spacingAndGlyphs">m</tspan><tspan x="510.54" textLength="1.26" lengthAdjust="spacingAndGlyphs">i</tspan><tspan x="511.98" textLength="2.06" lengthAdjust="spacingAndGlyphs">t</tspan><tspan x="514.11" textLength="1.87" lengthAdjust="spacingAndGlyphs">/</tspan><tspan x="516.06" textLength="5.26" lengthAdjust="spacingAndGlyphs">m</tspan><tspan x="521.52" textLength="1.26" lengthAdjust="spacingAndGlyphs">i</tspan><tspan x="523.07" textLength="2.66" lengthAdjust="spacingAndGlyphs">s</tspan><tspan x="525.84" textLength="2.06" lengthAdjust="spacingAndGlyphs">t</tspan><tspan x="527.99" textLength="2.37" lengthAdjust="spacingAndGlyphs">r</tspan><tspan x="530.37" textLength="2.77" lengthAdjust="spacingAndGlyphs">a</tspan><tspan x="533.79" textLength="1.26" lengthAdjust="spacingAndGlyphs">l</tspan><tspan x="535.19" textLength="1.99" lengthAdjust="spacingAndGlyphs">-</tspan><tspan x="537.34" textLength="3.18" lengthAdjust="spacingAndGlyphs">7</tspan><tspan x="540.81" textLength="3.59" lengthAdjust="spacingAndGlyphs">B</tspan><tspan x="544.51" textLength="1.99" lengthAdjust="spacingAndGlyphs">-</tspan><tspan x="546.51" textLength="1.63" lengthAdjust="spacingAndGlyphs">I</tspan><tspan x="548.25" textLength="3.32" lengthAdjust="spacingAndGlyphs">n</tspan><tspan x="551.81" textLength="2.66" lengthAdjust="spacingAndGlyphs">s</tspan><tspan x="554.58" textLength="2.06" lengthAdjust="spacingAndGlyphs">t</tspan><tspan x="556.73" textLength="2.37" lengthAdjust="spacingAndGlyphs">r</tspan><tspan x="559.07" textLength="3.32" lengthAdjust="spacingAndGlyphs">u</tspan><tspan x="562.57" textLength="2.78" lengthAdjust="spacingAndGlyphs">c</tspan><tspan x="565.58" textLength="2.06" lengthAdjust="spacingAndGlyphs">t</tspan><tspan x="567.72" textLength="1.99" lengthAdjust="spacingAndGlyphs">-</tspan><tspan x="569.71" textLength="2.99" lengthAdjust="spacingAndGlyphs">v</tspan><tspan x="572.98" textLength="3.25" lengthAdjust="spacingAndGlyphs">0</tspan><tspan x="576.41" textLength="1.67" lengthAdjust="spacingAndGlyphs">.</tspan><tspan x="578.34" textLength="3.12" lengthAdjust="spacingAndGlyphs">3</tspan><tspan x="581.66" textLength="1.99" lengthAdjust="spacingAndGlyphs">-</tspan><tspan x="583.71" textLength="3.71" lengthAdjust="spacingAndGlyphs">C</tspan><tspan x="587.67" textLength="3.27" lengthAdjust="spacingAndGlyphs">P</tspan><tspan x="590.71" textLength="3.69" lengthAdjust="spacingAndGlyphs">T</tspan><tspan x="593.75" textLength="1.99" lengthAdjust="spacingAndGlyphs">-</tspan><tspan x="595.88" textLength="3.29" lengthAdjust="spacingAndGlyphs">S</tspan><tspan x="599.41" textLength="2.9" lengthAdjust="spacingAndGlyphs">F</tspan><tspan x="602.19" textLength="3.69" lengthAdjust="spacingAndGlyphs">T</tspan><tspan x="605.23" textLength="1.99" lengthAdjust="spacingAndGlyphs">-</tspan><tspan x="607.43" textLength="4.26" lengthAdjust="spacingAndGlyphs">O</tspan><tspan x="611.85" textLength="3.83" lengthAdjust="spacingAndGlyphs">R</tspan><tspan x="615.73" textLength="3.27" lengthAdjust="spacingAndGlyphs">P</tspan><tspan x="618.98" textLength="4.26" lengthAdjust="spacingAndGlyphs">O</tspan><tspan x="623.45" textLength="1.99" lengthAdjust="spacingAndGlyphs">-</tspan><tspan x="625.58" textLength="3.29" lengthAdjust="spacingAndGlyphs">S</tspan><tspan x="629.04" textLength="3.17" lengthAdjust="spacingAndGlyphs">L</tspan><tspan x="632.2" textLength="3.2" lengthAdjust="spacingAndGlyphs">E</tspan><tspan x="635.65" textLength="3.83" lengthAdjust="spacingAndGlyphs">R</tspan><tspan x="639.54" textLength="3.27" lengthAdjust="spacingAndGlyphs">P</tspan></text>
<polygon points="477.7,259.8 482.6,264.7 477.7,269.6 472.8,264.7" fill="#3b42a3" stroke="#3b42a3" stroke-width="0.79"/>
<text y="266.2" font-size="5.87" fill="#000"><tspan x="487.42" textLength="1.26" lengthAdjust="spacingAndGlyphs">l</tspan><tspan x="488.94" textLength="2.77" lengthAdjust="spacingAndGlyphs">a</tspan><tspan x="492.29" textLength="5.26" lengthAdjust="spacingAndGlyphs">m</tspan><tspan x="497.69" textLength="5.26" lengthAdjust="spacingAndGlyphs">m</tspan><tspan x="503.01" textLength="1.99" lengthAdjust="spacingAndGlyphs">-</tspan><tspan x="505.09" textLength="5.26" lengthAdjust="spacingAndGlyphs">m</tspan><tspan x="510.54" textLength="1.26" lengthAdjust="spacingAndGlyphs">i</tspan><tspan x="511.98" textLength="2.06" lengthAdjust="spacingAndGlyphs">t</tspan><tspan x="514.11" textLength="1.87" lengthAdjust="spacingAndGlyphs">/</tspan><tspan x="516.06" textLength="5.26" lengthAdjust="spacingAndGlyphs">m</tspan><tspan x="521.52" textLength="1.26" lengthAdjust="spacingAndGlyphs">i</tspan><tspan x="523.07" textLength="2.66" lengthAdjust="spacingAndGlyphs">s</tspan><tspan x="525.84" textLength="2.06" lengthAdjust="spacingAndGlyphs">t</tspan><tspan x="527.99" textLength="2.37" lengthAdjust="spacingAndGlyphs">r</tspan><tspan x="530.37" textLength="2.77" lengthAdjust="spacingAndGlyphs">a</tspan><tspan x="533.79" textLength="1.26" lengthAdjust="spacingAndGlyphs">l</tspan><tspan x="535.19" textLength="1.99" lengthAdjust="spacingAndGlyphs">-</tspan><tspan x="537.34" textLength="3.18" lengthAdjust="spacingAndGlyphs">7</tspan><tspan x="540.81" textLength="3.59" lengthAdjust="spacingAndGlyphs">B</tspan><tspan x="544.51" textLength="1.99" lengthAdjust="spacingAndGlyphs">-</tspan><tspan x="546.51" textLength="1.63" lengthAdjust="spacingAndGlyphs">I</tspan><tspan x="548.25" textLength="3.32" lengthAdjust="spacingAndGlyphs">n</tspan><tspan x="551.81" textLength="2.66" lengthAdjust="spacingAndGlyphs">s</tspan><tspan x="554.58" textLength="2.06" lengthAdjust="spacingAndGlyphs">t</tspan><tspan x="556.73" textLength="2.37" lengthAdjust="spacingAndGlyphs">r</tspan><tspan x="559.07" textLength="3.32" lengthAdjust="spacingAndGlyphs">u</tspan><tspan x="562.57" textLength="2.78" lengthAdjust="spacingAndGlyphs">c</tspan><tspan x="565.58" textLength="2.06" lengthAdjust="spacingAndGlyphs">t</tspan><tspan x="567.72" textLength="1.99" lengthAdjust="spacingAndGlyphs">-</tspan><tspan x="569.71" textLength="2.99" lengthAdjust="spacingAndGlyphs">v</tspan><tspan x="572.98" textLength="3.25" lengthAdjust="spacingAndGlyphs">0</tspan><tspan x="576.41" textLength="1.67" lengthAdjust="spacingAndGlyphs">.</tspan><tspan x="578.34" textLength="3.12" lengthAdjust="spacingAndGlyphs">3</tspan><tspan x="581.66" textLength="1.99" lengthAdjust="spacingAndGlyphs">-</tspan><tspan x="583.71" textLength="3.71" lengthAdjust="spacingAndGlyphs">C</tspan><tspan x="587.67" textLength="3.27" lengthAdjust="spacingAndGlyphs">P</tspan><tspan x="590.71" textLength="3.69" lengthAdjust="spacingAndGlyphs">T</tspan><tspan x="593.75" textLength="1.99" lengthAdjust="spacingAndGlyphs">-</tspan><tspan x="595.88" textLength="3.29" lengthAdjust="spacingAndGlyphs">S</tspan><tspan x="599.33" textLength="3.17" lengthAdjust="spacingAndGlyphs">L</tspan><tspan x="602.49" textLength="3.2" lengthAdjust="spacingAndGlyphs">E</tspan><tspan x="605.95" textLength="3.83" lengthAdjust="spacingAndGlyphs">R</tspan><tspan x="609.83" textLength="3.27" lengthAdjust="spacingAndGlyphs">P</tspan></text>
<circle cx="477.7" cy="272.8" r="3.3" fill="#1e2192" stroke="#1e2192" stroke-width="0.79"/>
<text y="274.3" font-size="5.87" fill="#000"><tspan x="487.42" textLength="1.26" lengthAdjust="spacingAndGlyphs">l</tspan><tspan x="488.94" textLength="2.77" lengthAdjust="spacingAndGlyphs">a</tspan><tspan x="492.29" textLength="5.26" lengthAdjust="spacingAndGlyphs">m</tspan><tspan x="497.69" textLength="5.26" lengthAdjust="spacingAndGlyphs">m</tspan><tspan x="503.01" textLength="1.99" lengthAdjust="spacingAndGlyphs">-</tspan><tspan x="505.09" textLength="5.26" lengthAdjust="spacingAndGlyphs">m</tspan><tspan x="510.54" textLength="1.26" lengthAdjust="spacingAndGlyphs">i</tspan><tspan x="511.98" textLength="2.06" lengthAdjust="spacingAndGlyphs">t</tspan><tspan x="514.11" textLength="1.87" lengthAdjust="spacingAndGlyphs">/</tspan><tspan x="516.06" textLength="5.26" lengthAdjust="spacingAndGlyphs">m</tspan><tspan x="521.52" textLength="1.26" lengthAdjust="spacingAndGlyphs">i</tspan><tspan x="523.07" textLength="2.66" lengthAdjust="spacingAndGlyphs">s</tspan><tspan x="525.84" textLength="2.06" lengthAdjust="spacingAndGlyphs">t</tspan><tspan x="527.99" textLength="2.37" lengthAdjust="spacingAndGlyphs">r</tspan><tspan x="530.37" textLength="2.77" lengthAdjust="spacingAndGlyphs">a</tspan><tspan x="533.79" textLength="1.26" lengthAdjust="spacingAndGlyphs">l</tspan><tspan x="535.19" textLength="1.99" lengthAdjust="spacingAndGlyphs">-</tspan><tspan x="537.34" textLength="3.18" lengthAdjust="spacingAndGlyphs">7</tspan><tspan x="540.81" textLength="3.59" lengthAdjust="spacingAndGlyphs">B</tspan><tspan x="544.51" textLength="1.99" lengthAdjust="spacingAndGlyphs">-</tspan><tspan x="546.51" textLength="1.63" lengthAdjust="spacingAndGlyphs">I</tspan><tspan x="548.25" textLength="3.32" lengthAdjust="spacingAndGlyphs">n</tspan><tspan x="551.81" textLength="2.66" lengthAdjust="spacingAndGlyphs">s</tspan><tspan x="554.58" textLength="2.06" lengthAdjust="spacingAndGlyphs">t</tspan><tspan x="556.73" textLength="2.37" lengthAdjust="spacingAndGlyphs">r</tspan><tspan x="559.07" textLength="3.32" lengthAdjust="spacingAndGlyphs">u</tspan><tspan x="562.57" textLength="2.78" lengthAdjust="spacingAndGlyphs">c</tspan><tspan x="565.58" textLength="2.06" lengthAdjust="spacingAndGlyphs">t</tspan><tspan x="567.72" textLength="1.99" lengthAdjust="spacingAndGlyphs">-</tspan><tspan x="569.71" textLength="2.99" lengthAdjust="spacingAndGlyphs">v</tspan><tspan x="572.98" textLength="3.25" lengthAdjust="spacingAndGlyphs">0</tspan><tspan x="576.41" textLength="1.67" lengthAdjust="spacingAndGlyphs">.</tspan><tspan x="578.34" textLength="3.12" lengthAdjust="spacingAndGlyphs">3</tspan><tspan x="581.66" textLength="1.99" lengthAdjust="spacingAndGlyphs">-</tspan><tspan x="583.71" textLength="3.71" lengthAdjust="spacingAndGlyphs">C</tspan><tspan x="587.67" textLength="3.27" lengthAdjust="spacingAndGlyphs">P</tspan><tspan x="590.71" textLength="3.69" lengthAdjust="spacingAndGlyphs">T</tspan><tspan x="593.75" textLength="1.99" lengthAdjust="spacingAndGlyphs">-</tspan><tspan x="595.88" textLength="3.29" lengthAdjust="spacingAndGlyphs">S</tspan><tspan x="599.41" textLength="2.9" lengthAdjust="spacingAndGlyphs">F</tspan><tspan x="602.19" textLength="3.69" lengthAdjust="spacingAndGlyphs">T</tspan><tspan x="605.23" textLength="1.99" lengthAdjust="spacingAndGlyphs">-</tspan><tspan x="607.36" textLength="3.29" lengthAdjust="spacingAndGlyphs">S</tspan><tspan x="610.81" textLength="3.17" lengthAdjust="spacingAndGlyphs">L</tspan><tspan x="613.97" textLength="3.2" lengthAdjust="spacingAndGlyphs">E</tspan><tspan x="617.43" textLength="3.83" lengthAdjust="spacingAndGlyphs">R</tspan><tspan x="621.32" textLength="3.27" lengthAdjust="spacingAndGlyphs">P</tspan></text>
<rect x="474.4" y="277.6" width="6.6" height="6.6" fill="#000080" stroke="#000080" stroke-width="0.79"/>
<text y="282.4" font-size="5.87" fill="#000"><tspan x="487.42" textLength="1.26" lengthAdjust="spacingAndGlyphs">l</tspan><tspan x="488.94" textLength="2.77" lengthAdjust="spacingAndGlyphs">a</tspan><tspan x="492.29" textLength="5.26" lengthAdjust="spacingAndGlyphs">m</tspan><tspan x="497.69" textLength="5.26" lengthAdjust="spacingAndGlyphs">m</tspan><tspan x="503.01" textLength="1.99" lengthAdjust="spacingAndGlyphs">-</tspan><tspan x="505.09" textLength="5.26" lengthAdjust="spacingAndGlyphs">m</tspan><tspan x="510.54" textLength="1.26" lengthAdjust="spacingAndGlyphs">i</tspan><tspan x="511.98" textLength="2.06" lengthAdjust="spacingAndGlyphs">t</tspan><tspan x="514.11" textLength="1.87" lengthAdjust="spacingAndGlyphs">/</tspan><tspan x="516.06" textLength="5.26" lengthAdjust="spacingAndGlyphs">m</tspan><tspan x="521.52" textLength="1.26" lengthAdjust="spacingAndGlyphs">i</tspan><tspan x="523.07" textLength="2.66" lengthAdjust="spacingAndGlyphs">s</tspan><tspan x="525.84" textLength="2.06" lengthAdjust="spacingAndGlyphs">t</tspan><tspan x="527.99" textLength="2.37" lengthAdjust="spacingAndGlyphs">r</tspan><tspan x="530.37" textLength="2.77" lengthAdjust="spacingAndGlyphs">a</tspan><tspan x="533.79" textLength="1.26" lengthAdjust="spacingAndGlyphs">l</tspan><tspan x="535.19" textLength="1.99" lengthAdjust="spacingAndGlyphs">-</tspan><tspan x="537.34" textLength="3.18" lengthAdjust="spacingAndGlyphs">7</tspan><tspan x="540.81" textLength="3.59" lengthAdjust="spacingAndGlyphs">B</tspan><tspan x="544.51" textLength="1.99" lengthAdjust="spacingAndGlyphs">-</tspan><tspan x="546.51" textLength="1.63" lengthAdjust="spacingAndGlyphs">I</tspan><tspan x="548.25" textLength="3.32" lengthAdjust="spacingAndGlyphs">n</tspan><tspan x="551.81" textLength="2.66" lengthAdjust="spacingAndGlyphs">s</tspan><tspan x="554.58" textLength="2.06" lengthAdjust="spacingAndGlyphs">t</tspan><tspan x="556.73" textLength="2.37" lengthAdjust="spacingAndGlyphs">r</tspan><tspan x="559.07" textLength="3.32" lengthAdjust="spacingAndGlyphs">u</tspan><tspan x="562.57" textLength="2.78" lengthAdjust="spacingAndGlyphs">c</tspan><tspan x="565.58" textLength="2.06" lengthAdjust="spacingAndGlyphs">t</tspan><tspan x="567.72" textLength="1.99" lengthAdjust="spacingAndGlyphs">-</tspan><tspan x="569.71" textLength="2.99" lengthAdjust="spacingAndGlyphs">v</tspan><tspan x="572.98" textLength="3.25" lengthAdjust="spacingAndGlyphs">0</tspan><tspan x="576.41" textLength="1.67" lengthAdjust="spacingAndGlyphs">.</tspan><tspan x="578.34" textLength="3.12" lengthAdjust="spacingAndGlyphs">3</tspan><tspan x="581.66" textLength="1.99" lengthAdjust="spacingAndGlyphs">-</tspan><tspan x="583.71" textLength="3.71" lengthAdjust="spacingAndGlyphs">C</tspan><tspan x="587.67" textLength="3.27" lengthAdjust="spacingAndGlyphs">P</tspan><tspan x="590.71" textLength="3.69" lengthAdjust="spacingAndGlyphs">T</tspan><tspan x="593.75" textLength="1.99" lengthAdjust="spacingAndGlyphs">-</tspan><tspan x="595.88" textLength="3.29" lengthAdjust="spacingAndGlyphs">S</tspan><tspan x="599.41" textLength="2.9" lengthAdjust="spacingAndGlyphs">F</tspan><tspan x="602.19" textLength="3.69" lengthAdjust="spacingAndGlyphs">T</tspan><tspan x="605.23" textLength="1.99" lengthAdjust="spacingAndGlyphs">-</tspan><tspan x="607.29" textLength="4.14" lengthAdjust="spacingAndGlyphs">D</tspan><tspan x="611.63" textLength="3.27" lengthAdjust="spacingAndGlyphs">P</tspan><tspan x="614.88" textLength="4.26" lengthAdjust="spacingAndGlyphs">O</tspan><tspan x="619.35" textLength="1.99" lengthAdjust="spacingAndGlyphs">-</tspan><tspan x="621.48" textLength="3.29" lengthAdjust="spacingAndGlyphs">S</tspan><tspan x="624.94" textLength="3.17" lengthAdjust="spacingAndGlyphs">L</tspan><tspan x="628.1" textLength="3.2" lengthAdjust="spacingAndGlyphs">E</tspan><tspan x="631.56" textLength="3.83" lengthAdjust="spacingAndGlyphs">R</tspan><tspan x="635.44" textLength="3.27" lengthAdjust="spacingAndGlyphs">P</tspan></text>
<polygon points="477.7,288.85 478.52,291.37 481.17,291.37 479.03,292.93 479.85,295.45 477.7,293.89 475.55,295.45 476.37,292.93 474.23,291.37 476.88,291.37" fill="#000080" stroke="#000" stroke-width="0.79" stroke-linejoin="miter"/>
<text y="290.7" font-size="5.87" fill="#000"><tspan x="487.36" textLength="3.59" lengthAdjust="spacingAndGlyphs">B</tspan><tspan x="491.11" textLength="3.33" lengthAdjust="spacingAndGlyphs">e</tspan><tspan x="494.62" textLength="2.66" lengthAdjust="spacingAndGlyphs">s</tspan><tspan x="497.39" textLength="2.06" lengthAdjust="spacingAndGlyphs">t</tspan> <tspan x="501.43" textLength="3.27" lengthAdjust="spacingAndGlyphs">P</tspan><tspan x="504.48" textLength="3.33" lengthAdjust="spacingAndGlyphs">e</tspan><tspan x="507.85" textLength="2.37" lengthAdjust="spacingAndGlyphs">r</tspan><tspan x="510.14" textLength="2.02" lengthAdjust="spacingAndGlyphs">f</tspan><tspan x="512.12" textLength="3.27" lengthAdjust="spacingAndGlyphs">o</tspan><tspan x="515.47" textLength="2.37" lengthAdjust="spacingAndGlyphs">r</tspan><tspan x="517.72" textLength="5.26" lengthAdjust="spacingAndGlyphs">m</tspan><tspan x="523.18" textLength="1.26" lengthAdjust="spacingAndGlyphs">i</tspan><tspan x="524.68" textLength="3.32" lengthAdjust="spacingAndGlyphs">n</tspan><tspan x="528.13" textLength="3.35" lengthAdjust="spacingAndGlyphs">g</tspan> <tspan x="533.45" textLength="4.6" lengthAdjust="spacingAndGlyphs">M</tspan><tspan x="538.2" textLength="3.27" lengthAdjust="spacingAndGlyphs">o</tspan><tspan x="541.58" textLength="3.35" lengthAdjust="spacingAndGlyphs">d</tspan><tspan x="545.1" textLength="3.33" lengthAdjust="spacingAndGlyphs">e</tspan><tspan x="548.59" textLength="1.26" lengthAdjust="spacingAndGlyphs">l</tspan><tspan x="550.09" textLength="1.67" lengthAdjust="spacingAndGlyphs">:</tspan></text>
<text y="296.6" font-size="5.87" fill="#000"><tspan x="487.42" textLength="1.26" lengthAdjust="spacingAndGlyphs">l</tspan><tspan x="488.94" textLength="2.77" lengthAdjust="spacingAndGlyphs">a</tspan><tspan x="492.29" textLength="5.26" lengthAdjust="spacingAndGlyphs">m</tspan><tspan x="497.69" textLength="5.26" lengthAdjust="spacingAndGlyphs">m</tspan><tspan x="503.01" textLength="1.99" lengthAdjust="spacingAndGlyphs">-</tspan><tspan x="505.09" textLength="5.26" lengthAdjust="spacingAndGlyphs">m</tspan><tspan x="510.54" textLength="1.26" lengthAdjust="spacingAndGlyphs">i</tspan><tspan x="511.98" textLength="2.06" lengthAdjust="spacingAndGlyphs">t</tspan><tspan x="514.11" textLength="1.87" lengthAdjust="spacingAndGlyphs">/</tspan><tspan x="516.06" textLength="5.26" lengthAdjust="spacingAndGlyphs">m</tspan><tspan x="521.52" textLength="1.26" lengthAdjust="spacingAndGlyphs">i</tspan><tspan x="523.07" textLength="2.66" lengthAdjust="spacingAndGlyphs">s</tspan><tspan x="525.84" textLength="2.06" lengthAdjust="spacingAndGlyphs">t</tspan><tspan x="527.99" textLength="2.37" lengthAdjust="spacingAndGlyphs">r</tspan><tspan x="530.37" textLength="2.77" lengthAdjust="spacingAndGlyphs">a</tspan><tspan x="533.79" textLength="1.26" lengthAdjust="spacingAndGlyphs">l</tspan><tspan x="535.19" textLength="1.99" lengthAdjust="spacingAndGlyphs">-</tspan><tspan x="537.34" textLength="3.18" lengthAdjust="spacingAndGlyphs">7</tspan><tspan x="540.81" textLength="3.59" lengthAdjust="spacingAndGlyphs">B</tspan><tspan x="544.51" textLength="1.99" lengthAdjust="spacingAndGlyphs">-</tspan><tspan x="546.41" textLength="3.59" lengthAdjust="spacingAndGlyphs">B</tspan><tspan x="550.23" textLength="2.77" lengthAdjust="spacingAndGlyphs">a</tspan><tspan x="553.66" textLength="2.66" lengthAdjust="spacingAndGlyphs">s</tspan><tspan x="556.44" textLength="3.33" lengthAdjust="spacingAndGlyphs">e</tspan><tspan x="559.81" textLength="1.99" lengthAdjust="spacingAndGlyphs">-</tspan><tspan x="561.79" textLength="2.99" lengthAdjust="spacingAndGlyphs">v</tspan><tspan x="565.07" textLength="3.25" lengthAdjust="spacingAndGlyphs">0</tspan><tspan x="568.5" textLength="1.67" lengthAdjust="spacingAndGlyphs">.</tspan><tspan x="570.42" textLength="3.12" lengthAdjust="spacingAndGlyphs">3</tspan><tspan x="573.74" textLength="1.99" lengthAdjust="spacingAndGlyphs">-</tspan><tspan x="575.79" textLength="3.71" lengthAdjust="spacingAndGlyphs">C</tspan><tspan x="579.75" textLength="3.27" lengthAdjust="spacingAndGlyphs">P</tspan><tspan x="582.79" textLength="3.69" lengthAdjust="spacingAndGlyphs">T</tspan><tspan x="585.83" textLength="1.99" lengthAdjust="spacingAndGlyphs">-</tspan><tspan x="587.96" textLength="3.29" lengthAdjust="spacingAndGlyphs">S</tspan><tspan x="591.49" textLength="2.9" lengthAdjust="spacingAndGlyphs">F</tspan><tspan x="594.27" textLength="3.69" lengthAdjust="spacingAndGlyphs">T</tspan><tspan x="597.31" textLength="1.99" lengthAdjust="spacingAndGlyphs">-</tspan><tspan x="599.44" textLength="3.29" lengthAdjust="spacingAndGlyphs">S</tspan><tspan x="602.9" textLength="3.17" lengthAdjust="spacingAndGlyphs">L</tspan><tspan x="606.06" textLength="3.2" lengthAdjust="spacingAndGlyphs">E</tspan><tspan x="609.52" textLength="3.83" lengthAdjust="spacingAndGlyphs">R</tspan><tspan x="613.4" textLength="3.27" lengthAdjust="spacingAndGlyphs">P</tspan></text>
<circle cx="401.7" cy="382.8" r="3.3" fill="#cfe6fb" stroke="#cfe6fb" stroke-width="0.79"/>
<rect x="381.5" y="411" width="6.6" height="6.6" fill="#6873be" stroke="#6873be" stroke-width="0.79"/>
<polygon points="300.3,519.6 297,526.2 303.6,526.2" fill="#000080" stroke="#000080" stroke-width="0.79" stroke-linejoin="miter"/>
<polygon points="401.7,378.75 402.61,381.55 405.55,381.55 403.17,383.28 404.08,386.08 401.7,384.35 399.32,386.08 400.23,383.28 397.85,381.55 400.79,381.55" fill="#000080" stroke="#000" stroke-width="0.79" stroke-linejoin="miter"/>
<path d="M239.6 370.5V632.5M295.55 370.5V632.5M351.5 370.5V632.5M407.45 370.5V632.5M463.4 370.5V632.5M226.4 619.1H488.7M226.4 563.17H488.7M226.4 507.25H488.7M226.4 451.32H488.7M226.4 395.4H488.7" stroke="#b0b0b0" stroke-width="0.66" fill="none"/>
<path d="M238.2 620.4L473.4 385.4" stroke="#000" stroke-width="1.18" stroke-dasharray="4.37 1.89" stroke-dashoffset="0.5" fill="none"/>
<rect x="226.4" y="370.5" width="262.3" height="262" fill="none" stroke="#000" stroke-width="0.7"/>
<path d="M239.6 632.5V635.25M295.55 632.5V635.25M351.5 632.5V635.25M407.45 632.5V635.25M463.4 632.5V635.25M226.4 619.1H223.65M226.4 563.17H223.65M226.4 507.25H223.65M226.4 451.32H223.65M226.4 395.4H223.65" stroke="#000" stroke-width="0.63" fill="none"/>
<text y="643.95" font-size="8.43" fill="#000"><tspan x="230.95" textLength="4.66" lengthAdjust="spacingAndGlyphs">0</tspan><tspan x="235.87" textLength="2.4" lengthAdjust="spacingAndGlyphs">.</tspan><tspan x="238.63" textLength="4.4" lengthAdjust="spacingAndGlyphs">5</tspan><tspan x="243.59" textLength="4.66" lengthAdjust="spacingAndGlyphs">0</tspan></text>
<text y="643.95" font-size="8.43" fill="#000"><tspan x="286.98" textLength="4.66" lengthAdjust="spacingAndGlyphs">0</tspan><tspan x="291.91" textLength="2.4" lengthAdjust="spacingAndGlyphs">.</tspan><tspan x="294.67" textLength="4.4" lengthAdjust="spacingAndGlyphs">5</tspan><tspan x="299.72" textLength="4.4" lengthAdjust="spacingAndGlyphs">5</tspan></text>
<text y="643.95" font-size="8.43" fill="#000"><tspan x="342.85" textLength="4.66" lengthAdjust="spacingAndGlyphs">0</tspan><tspan x="347.77" textLength="2.4" lengthAdjust="spacingAndGlyphs">.</tspan><tspan x="350.36" textLength="4.83" lengthAdjust="spacingAndGlyphs">6</tspan><tspan x="355.49" textLength="4.66" lengthAdjust="spacingAndGlyphs">0</tspan></text>
<text y="643.95" font-size="8.43" fill="#000"><tspan x="398.88" textLength="4.66" lengthAdjust="spacingAndGlyphs">0</tspan><tspan x="403.81" textLength="2.4" lengthAdjust="spacingAndGlyphs">.</tspan><tspan x="406.39" textLength="4.83" lengthAdjust="spacingAndGlyphs">6</tspan><tspan x="411.62" textLength="4.4" lengthAdjust="spacingAndGlyphs">5</tspan></text>
<text y="643.95" font-size="8.43" fill="#000"><tspan x="454.75" textLength="4.66" lengthAdjust="spacingAndGlyphs">0</tspan><tspan x="459.67" textLength="2.4" lengthAdjust="spacingAndGlyphs">.</tspan><tspan x="462.37" textLength="4.56" lengthAdjust="spacingAndGlyphs">7</tspan><tspan x="467.39" textLength="4.66" lengthAdjust="spacingAndGlyphs">0</tspan></text>
<text y="622" font-size="8.43" fill="#000"><tspan x="203.83" textLength="4.66" lengthAdjust="spacingAndGlyphs">0</tspan><tspan x="208.75" textLength="2.4" lengthAdjust="spacingAndGlyphs">.</tspan><tspan x="211.51" textLength="4.4" lengthAdjust="spacingAndGlyphs">5</tspan><tspan x="216.47" textLength="4.66" lengthAdjust="spacingAndGlyphs">0</tspan></text>
<text y="566.07" font-size="8.43" fill="#000"><tspan x="203.99" textLength="4.66" lengthAdjust="spacingAndGlyphs">0</tspan><tspan x="208.91" textLength="2.4" lengthAdjust="spacingAndGlyphs">.</tspan><tspan x="211.67" textLength="4.4" lengthAdjust="spacingAndGlyphs">5</tspan><tspan x="216.73" textLength="4.4" lengthAdjust="spacingAndGlyphs">5</tspan></text>
<text y="510.15" font-size="8.43" fill="#000"><tspan x="203.83" textLength="4.66" lengthAdjust="spacingAndGlyphs">0</tspan><tspan x="208.75" textLength="2.4" lengthAdjust="spacingAndGlyphs">.</tspan><tspan x="211.33" textLength="4.83" lengthAdjust="spacingAndGlyphs">6</tspan><tspan x="216.47" textLength="4.66" lengthAdjust="spacingAndGlyphs">0</tspan></text>
<text y="454.22" font-size="8.43" fill="#000"><tspan x="203.99" textLength="4.66" lengthAdjust="spacingAndGlyphs">0</tspan><tspan x="208.91" textLength="2.4" lengthAdjust="spacingAndGlyphs">.</tspan><tspan x="211.5" textLength="4.83" lengthAdjust="spacingAndGlyphs">6</tspan><tspan x="216.73" textLength="4.4" lengthAdjust="spacingAndGlyphs">5</tspan></text>
<text y="398.3" font-size="8.43" fill="#000"><tspan x="203.83" textLength="4.66" lengthAdjust="spacingAndGlyphs">0</tspan><tspan x="208.75" textLength="2.4" lengthAdjust="spacingAndGlyphs">.</tspan><tspan x="211.45" textLength="4.56" lengthAdjust="spacingAndGlyphs">7</tspan><tspan x="216.47" textLength="4.66" lengthAdjust="spacingAndGlyphs">0</tspan></text>
<text y="366.35" font-size="10.03" fill="#000"><tspan x="250.4" textLength="6.36" lengthAdjust="spacingAndGlyphs">A</tspan><tspan x="256.77" textLength="4.74" lengthAdjust="spacingAndGlyphs">c</tspan><tspan x="261.92" textLength="3.51" lengthAdjust="spacingAndGlyphs">t</tspan><tspan x="265.71" textLength="5.67" lengthAdjust="spacingAndGlyphs">u</tspan><tspan x="271.77" textLength="4.73" lengthAdjust="spacingAndGlyphs">a</tspan><tspan x="277.6" textLength="2.15" lengthAdjust="spacingAndGlyphs">l</tspan> <tspan x="283.24" textLength="5.11" lengthAdjust="spacingAndGlyphs">v</tspan><tspan x="288.85" textLength="4.54" lengthAdjust="spacingAndGlyphs">s</tspan> <tspan x="296.78" textLength="5.47" lengthAdjust="spacingAndGlyphs">E</tspan><tspan x="302.66" textLength="5.25" lengthAdjust="spacingAndGlyphs">x</tspan><tspan x="308.29" textLength="5.72" lengthAdjust="spacingAndGlyphs">p</tspan><tspan x="314.19" textLength="5.68" lengthAdjust="spacingAndGlyphs">e</tspan><tspan x="320.04" textLength="4.74" lengthAdjust="spacingAndGlyphs">c</tspan><tspan x="325.19" textLength="3.51" lengthAdjust="spacingAndGlyphs">t</tspan><tspan x="328.92" textLength="5.68" lengthAdjust="spacingAndGlyphs">e</tspan><tspan x="334.75" textLength="5.72" lengthAdjust="spacingAndGlyphs">d</tspan> <tspan x="343.91" textLength="5.62" lengthAdjust="spacingAndGlyphs">S</tspan><tspan x="349.79" textLength="4.74" lengthAdjust="spacingAndGlyphs">c</tspan><tspan x="354.97" textLength="5.59" lengthAdjust="spacingAndGlyphs">o</tspan><tspan x="360.69" textLength="4.05" lengthAdjust="spacingAndGlyphs">r</tspan><tspan x="364.43" textLength="5.68" lengthAdjust="spacingAndGlyphs">e</tspan><tspan x="370.43" textLength="4.54" lengthAdjust="spacingAndGlyphs">s</tspan> <tspan x="378.14" textLength="3.45" lengthAdjust="spacingAndGlyphs">f</tspan><tspan x="381.53" textLength="5.59" lengthAdjust="spacingAndGlyphs">o</tspan><tspan x="387.25" textLength="4.05" lengthAdjust="spacingAndGlyphs">r</tspan> <tspan x="394.35" textLength="5.62" lengthAdjust="spacingAndGlyphs">S</tspan><tspan x="400.25" textLength="5.41" lengthAdjust="spacingAndGlyphs">L</tspan><tspan x="405.65" textLength="5.47" lengthAdjust="spacingAndGlyphs">E</tspan><tspan x="411.56" textLength="6.53" lengthAdjust="spacingAndGlyphs">R</tspan><tspan x="418.19" textLength="5.58" lengthAdjust="spacingAndGlyphs">P</tspan> <tspan x="426.69" textLength="6.4" lengthAdjust="spacingAndGlyphs">V</tspan><tspan x="432.6" textLength="4.73" lengthAdjust="spacingAndGlyphs">a</tspan><tspan x="438.22" textLength="4.05" lengthAdjust="spacingAndGlyphs">r</tspan><tspan x="442.32" textLength="2.15" lengthAdjust="spacingAndGlyphs">i</tspan><tspan x="444.91" textLength="4.73" lengthAdjust="spacingAndGlyphs">a</tspan><tspan x="450.68" textLength="5.67" lengthAdjust="spacingAndGlyphs">n</tspan><tspan x="456.56" textLength="3.51" lengthAdjust="spacingAndGlyphs">t</tspan><tspan x="460.47" textLength="4.54" lengthAdjust="spacingAndGlyphs">s</tspan></text>
<text y="656.1" font-size="10.03" fill="#000"><tspan x="293.16" textLength="5.47" lengthAdjust="spacingAndGlyphs">E</tspan><tspan x="299.03" textLength="5.25" lengthAdjust="spacingAndGlyphs">x</tspan><tspan x="304.67" textLength="5.72" lengthAdjust="spacingAndGlyphs">p</tspan><tspan x="310.57" textLength="5.68" lengthAdjust="spacingAndGlyphs">e</tspan><tspan x="316.42" textLength="4.74" lengthAdjust="spacingAndGlyphs">c</tspan><tspan x="321.57" textLength="3.51" lengthAdjust="spacingAndGlyphs">t</tspan><tspan x="325.3" textLength="5.68" lengthAdjust="spacingAndGlyphs">e</tspan><tspan x="331.12" textLength="5.72" lengthAdjust="spacingAndGlyphs">d</tspan> <tspan x="340.36" textLength="2.66" lengthAdjust="spacingAndGlyphs">(</tspan><tspan x="343.79" textLength="6.36" lengthAdjust="spacingAndGlyphs">A</tspan><tspan x="349.89" textLength="5.11" lengthAdjust="spacingAndGlyphs">v</tspan><tspan x="355.33" textLength="5.68" lengthAdjust="spacingAndGlyphs">e</tspan><tspan x="361.1" textLength="4.05" lengthAdjust="spacingAndGlyphs">r</tspan><tspan x="365.16" textLength="4.73" lengthAdjust="spacingAndGlyphs">a</tspan><tspan x="370.84" textLength="5.72" lengthAdjust="spacingAndGlyphs">g</tspan><tspan x="376.84" textLength="5.68" lengthAdjust="spacingAndGlyphs">e</tspan><tspan x="382.67" textLength="5.72" lengthAdjust="spacingAndGlyphs">d</tspan><tspan x="389.29" textLength="2.66" lengthAdjust="spacingAndGlyphs">)</tspan> <tspan x="395.52" textLength="5.62" lengthAdjust="spacingAndGlyphs">S</tspan><tspan x="401.4" textLength="4.74" lengthAdjust="spacingAndGlyphs">c</tspan><tspan x="406.59" textLength="5.59" lengthAdjust="spacingAndGlyphs">o</tspan><tspan x="412.3" textLength="4.05" lengthAdjust="spacingAndGlyphs">r</tspan><tspan x="416.04" textLength="5.68" lengthAdjust="spacingAndGlyphs">e</tspan></text>
<text transform="rotate(-90)" y="198.4" font-size="10.03" fill="#000"><tspan x="-555.06" textLength="6.36" lengthAdjust="spacingAndGlyphs">A</tspan><tspan x="-548.69" textLength="4.74" lengthAdjust="spacingAndGlyphs">c</tspan><tspan x="-543.54" textLength="3.51" lengthAdjust="spacingAndGlyphs">t</tspan><tspan x="-539.76" textLength="5.67" lengthAdjust="spacingAndGlyphs">u</tspan><tspan x="-533.7" textLength="4.73" lengthAdjust="spacingAndGlyphs">a</tspan><tspan x="-527.87" textLength="2.15" lengthAdjust="spacingAndGlyphs">l</tspan> <tspan x="-522.38" textLength="7.27" lengthAdjust="spacingAndGlyphs">O</tspan><tspan x="-514.83" textLength="5.72" lengthAdjust="spacingAndGlyphs">b</tspan><tspan x="-508.76" textLength="4.54" lengthAdjust="spacingAndGlyphs">s</tspan><tspan x="-504" textLength="5.68" lengthAdjust="spacingAndGlyphs">e</tspan><tspan x="-498.24" textLength="4.05" lengthAdjust="spacingAndGlyphs">r</tspan><tspan x="-494.13" textLength="5.11" lengthAdjust="spacingAndGlyphs">v</tspan><tspan x="-488.7" textLength="5.68" lengthAdjust="spacingAndGlyphs">e</tspan><tspan x="-482.87" textLength="5.72" lengthAdjust="spacingAndGlyphs">d</tspan> <tspan x="-473.71" textLength="5.62" lengthAdjust="spacingAndGlyphs">S</tspan><tspan x="-467.83" textLength="4.74" lengthAdjust="spacingAndGlyphs">c</tspan><tspan x="-462.65" textLength="5.59" lengthAdjust="spacingAndGlyphs">o</tspan><tspan x="-456.93" textLength="4.05" lengthAdjust="spacingAndGlyphs">r</tspan><tspan x="-453.19" textLength="5.68" lengthAdjust="spacingAndGlyphs">e</tspan></text>
<text x="174.49" y="355.9" font-size="14.2" fill="#000" stroke="#000" stroke-width="0.25">C</text>
<rect x="314" y="589.7" width="171.9" height="39.9" rx="1.1" fill="#fff" fill-opacity="0.8" stroke="#cccccc" stroke-opacity="0.8" stroke-width="0.785"/>
<circle cx="321.6" cy="594.4" r="3.3" fill="#cfe6fb" stroke="#cfe6fb" stroke-width="0.79"/>
<text y="595.9" font-size="5.86" fill="#000"><tspan x="331.72" textLength="1.25" lengthAdjust="spacingAndGlyphs">l</tspan><tspan x="333.24" textLength="2.76" lengthAdjust="spacingAndGlyphs">a</tspan><tspan x="336.59" textLength="5.25" lengthAdjust="spacingAndGlyphs">m</tspan><tspan x="341.97" textLength="5.25" lengthAdjust="spacingAndGlyphs">m</tspan><tspan x="347.28" textLength="1.98" lengthAdjust="spacingAndGlyphs">-</tspan><tspan x="349.35" textLength="5.25" lengthAdjust="spacingAndGlyphs">m</tspan><tspan x="354.8" textLength="1.25" lengthAdjust="spacingAndGlyphs">i</tspan><tspan x="356.23" textLength="2.05" lengthAdjust="spacingAndGlyphs">t</tspan><tspan x="358.36" textLength="1.86" lengthAdjust="spacingAndGlyphs">/</tspan><tspan x="360.37" textLength="3.29" lengthAdjust="spacingAndGlyphs">S</tspan><tspan x="363.82" textLength="5.25" lengthAdjust="spacingAndGlyphs">m</tspan><tspan x="369.18" textLength="3.27" lengthAdjust="spacingAndGlyphs">o</tspan><tspan x="372.65" textLength="1.25" lengthAdjust="spacingAndGlyphs">l</tspan><tspan x="374.12" textLength="3.16" lengthAdjust="spacingAndGlyphs">L</tspan><tspan x="377.22" textLength="4.59" lengthAdjust="spacingAndGlyphs">M</tspan><tspan x="381.9" textLength="1.98" lengthAdjust="spacingAndGlyphs">-</tspan><tspan x="383.8" textLength="3.58" lengthAdjust="spacingAndGlyphs">B</tspan><tspan x="387.61" textLength="2.76" lengthAdjust="spacingAndGlyphs">a</tspan><tspan x="391.03" textLength="2.65" lengthAdjust="spacingAndGlyphs">s</tspan><tspan x="393.81" textLength="3.32" lengthAdjust="spacingAndGlyphs">e</tspan><tspan x="397.17" textLength="1.98" lengthAdjust="spacingAndGlyphs">-</tspan><tspan x="399.34" textLength="3.1" lengthAdjust="spacingAndGlyphs">1</tspan><tspan x="402.72" textLength="1.67" lengthAdjust="spacingAndGlyphs">.</tspan><tspan x="404.59" textLength="3.17" lengthAdjust="spacingAndGlyphs">7</tspan><tspan x="408.05" textLength="3.58" lengthAdjust="spacingAndGlyphs">B</tspan><tspan x="411.75" textLength="1.98" lengthAdjust="spacingAndGlyphs">-</tspan><tspan x="413.79" textLength="3.71" lengthAdjust="spacingAndGlyphs">C</tspan><tspan x="417.74" textLength="3.26" lengthAdjust="spacingAndGlyphs">P</tspan><tspan x="420.78" textLength="3.68" lengthAdjust="spacingAndGlyphs">T</tspan><tspan x="423.81" textLength="1.98" lengthAdjust="spacingAndGlyphs">-</tspan><tspan x="425.94" textLength="3.29" lengthAdjust="spacingAndGlyphs">S</tspan><tspan x="429.47" textLength="2.9" lengthAdjust="spacingAndGlyphs">F</tspan><tspan x="432.24" textLength="3.68" lengthAdjust="spacingAndGlyphs">T</tspan><tspan x="435.27" textLength="1.98" lengthAdjust="spacingAndGlyphs">-</tspan><tspan x="437.34" textLength="4.13" lengthAdjust="spacingAndGlyphs">D</tspan><tspan x="441.66" textLength="3.26" lengthAdjust="spacingAndGlyphs">P</tspan><tspan x="444.91" textLength="4.25" lengthAdjust="spacingAndGlyphs">O</tspan><tspan x="449.37" textLength="1.98" lengthAdjust="spacingAndGlyphs">-</tspan><tspan x="451.5" textLength="3.29" lengthAdjust="spacingAndGlyphs">S</tspan><tspan x="454.94" textLength="3.16" lengthAdjust="spacingAndGlyphs">L</tspan><tspan x="458.1" textLength="3.2" lengthAdjust="spacingAndGlyphs">E</tspan><tspan x="461.55" textLength="3.82" lengthAdjust="spacingAndGlyphs">R</tspan><tspan x="465.43" textLength="3.26" lengthAdjust="spacingAndGlyphs">P</tspan></text>
<rect x="318.3" y="599.3" width="6.6" height="6.6" fill="#6873be" stroke="#6873be" stroke-width="0.79"/>
<text y="604.1" font-size="5.86" fill="#000"><tspan x="331.72" textLength="1.25" lengthAdjust="spacingAndGlyphs">l</tspan><tspan x="333.24" textLength="2.76" lengthAdjust="spacingAndGlyphs">a</tspan><tspan x="336.59" textLength="5.25" lengthAdjust="spacingAndGlyphs">m</tspan><tspan x="341.97" textLength="5.25" lengthAdjust="spacingAndGlyphs">m</tspan><tspan x="347.28" textLength="1.98" lengthAdjust="spacingAndGlyphs">-</tspan><tspan x="349.35" textLength="5.25" lengthAdjust="spacingAndGlyphs">m</tspan><tspan x="354.8" textLength="1.25" lengthAdjust="spacingAndGlyphs">i</tspan><tspan x="356.23" textLength="2.05" lengthAdjust="spacingAndGlyphs">t</tspan><tspan x="358.36" textLength="1.86" lengthAdjust="spacingAndGlyphs">/</tspan><tspan x="360.37" textLength="3.29" lengthAdjust="spacingAndGlyphs">S</tspan><tspan x="363.82" textLength="5.25" lengthAdjust="spacingAndGlyphs">m</tspan><tspan x="369.18" textLength="3.27" lengthAdjust="spacingAndGlyphs">o</tspan><tspan x="372.65" textLength="1.25" lengthAdjust="spacingAndGlyphs">l</tspan><tspan x="374.12" textLength="3.16" lengthAdjust="spacingAndGlyphs">L</tspan><tspan x="377.22" textLength="4.59" lengthAdjust="spacingAndGlyphs">M</tspan><tspan x="381.9" textLength="1.98" lengthAdjust="spacingAndGlyphs">-</tspan><tspan x="383.8" textLength="3.58" lengthAdjust="spacingAndGlyphs">B</tspan><tspan x="387.61" textLength="2.76" lengthAdjust="spacingAndGlyphs">a</tspan><tspan x="391.03" textLength="2.65" lengthAdjust="spacingAndGlyphs">s</tspan><tspan x="393.81" textLength="3.32" lengthAdjust="spacingAndGlyphs">e</tspan><tspan x="397.17" textLength="1.98" lengthAdjust="spacingAndGlyphs">-</tspan><tspan x="399.34" textLength="3.1" lengthAdjust="spacingAndGlyphs">1</tspan><tspan x="402.72" textLength="1.67" lengthAdjust="spacingAndGlyphs">.</tspan><tspan x="404.59" textLength="3.17" lengthAdjust="spacingAndGlyphs">7</tspan><tspan x="408.05" textLength="3.58" lengthAdjust="spacingAndGlyphs">B</tspan><tspan x="411.75" textLength="1.98" lengthAdjust="spacingAndGlyphs">-</tspan><tspan x="413.79" textLength="3.71" lengthAdjust="spacingAndGlyphs">C</tspan><tspan x="417.74" textLength="3.26" lengthAdjust="spacingAndGlyphs">P</tspan><tspan x="420.78" textLength="3.68" lengthAdjust="spacingAndGlyphs">T</tspan><tspan x="424.33" textLength="2.74" lengthAdjust="spacingAndGlyphs">_</tspan><tspan x="427.22" textLength="1.25" lengthAdjust="spacingAndGlyphs">l</tspan><tspan x="428.67" textLength="3.27" lengthAdjust="spacingAndGlyphs">o</tspan><tspan x="432.1" textLength="3.32" lengthAdjust="spacingAndGlyphs">n</tspan><tspan x="435.56" textLength="3.34" lengthAdjust="spacingAndGlyphs">g</tspan><tspan x="439.02" textLength="1.98" lengthAdjust="spacingAndGlyphs">-</tspan><tspan x="441.15" textLength="3.29" lengthAdjust="spacingAndGlyphs">S</tspan><tspan x="444.67" textLength="2.9" lengthAdjust="spacingAndGlyphs">F</tspan><tspan x="447.45" textLength="3.68" lengthAdjust="spacingAndGlyphs">T</tspan><tspan x="450.48" textLength="1.98" lengthAdjust="spacingAndGlyphs">-</tspan><tspan x="452.54" textLength="4.13" lengthAdjust="spacingAndGlyphs">D</tspan><tspan x="456.87" textLength="3.26" lengthAdjust="spacingAndGlyphs">P</tspan><tspan x="460.11" textLength="4.25" lengthAdjust="spacingAndGlyphs">O</tspan><tspan x="464.58" textLength="1.98" lengthAdjust="spacingAndGlyphs">-</tspan><tspan x="466.7" textLength="3.29" lengthAdjust="spacingAndGlyphs">S</tspan><tspan x="470.15" textLength="3.16" lengthAdjust="spacingAndGlyphs">L</tspan><tspan x="473.31" textLength="3.2" lengthAdjust="spacingAndGlyphs">E</tspan><tspan x="476.76" textLength="3.82" lengthAdjust="spacingAndGlyphs">R</tspan><tspan x="480.64" textLength="3.26" lengthAdjust="spacingAndGlyphs">P</tspan></text>
<polygon points="321.6,607.5 318.3,614.1 324.9,614.1" fill="#000080" stroke="#000080" stroke-width="0.79" stroke-linejoin="miter"/>
<text y="612.3" font-size="5.86" fill="#000"><tspan x="331.72" textLength="1.25" lengthAdjust="spacingAndGlyphs">l</tspan><tspan x="333.24" textLength="2.76" lengthAdjust="spacingAndGlyphs">a</tspan><tspan x="336.59" textLength="5.25" lengthAdjust="spacingAndGlyphs">m</tspan><tspan x="341.97" textLength="5.25" lengthAdjust="spacingAndGlyphs">m</tspan><tspan x="347.28" textLength="1.98" lengthAdjust="spacingAndGlyphs">-</tspan><tspan x="349.35" textLength="5.25" lengthAdjust="spacingAndGlyphs">m</tspan><tspan x="354.8" textLength="1.25" lengthAdjust="spacingAndGlyphs">i</tspan><tspan x="356.23" textLength="2.05" lengthAdjust="spacingAndGlyphs">t</tspan><tspan x="358.36" textLength="1.86" lengthAdjust="spacingAndGlyphs">/</tspan><tspan x="360.37" textLength="3.29" lengthAdjust="spacingAndGlyphs">S</tspan><tspan x="363.82" textLength="5.25" lengthAdjust="spacingAndGlyphs">m</tspan><tspan x="369.18" textLength="3.27" lengthAdjust="spacingAndGlyphs">o</tspan><tspan x="372.65" textLength="1.25" lengthAdjust="spacingAndGlyphs">l</tspan><tspan x="374.12" textLength="3.16" lengthAdjust="spacingAndGlyphs">L</tspan><tspan x="377.22" textLength="4.59" lengthAdjust="spacingAndGlyphs">M</tspan><tspan x="381.9" textLength="1.98" lengthAdjust="spacingAndGlyphs">-</tspan><tspan x="383.8" textLength="3.58" lengthAdjust="spacingAndGlyphs">B</tspan><tspan x="387.61" textLength="2.76" lengthAdjust="spacingAndGlyphs">a</tspan><tspan x="391.03" textLength="2.65" lengthAdjust="spacingAndGlyphs">s</tspan><tspan x="393.81" textLength="3.32" lengthAdjust="spacingAndGlyphs">e</tspan><tspan x="397.17" textLength="1.98" lengthAdjust="spacingAndGlyphs">-</tspan><tspan x="399.34" textLength="3.1" lengthAdjust="spacingAndGlyphs">1</tspan><tspan x="402.72" textLength="1.67" lengthAdjust="spacingAndGlyphs">.</tspan><tspan x="404.59" textLength="3.17" lengthAdjust="spacingAndGlyphs">7</tspan><tspan x="408.05" textLength="3.58" lengthAdjust="spacingAndGlyphs">B</tspan><tspan x="411.75" textLength="1.98" lengthAdjust="spacingAndGlyphs">-</tspan><tspan x="413.79" textLength="3.71" lengthAdjust="spacingAndGlyphs">C</tspan><tspan x="417.74" textLength="3.26" lengthAdjust="spacingAndGlyphs">P</tspan><tspan x="420.78" textLength="3.68" lengthAdjust="spacingAndGlyphs">T</tspan><tspan x="423.81" textLength="1.98" lengthAdjust="spacingAndGlyphs">-</tspan><tspan x="425.94" textLength="3.29" lengthAdjust="spacingAndGlyphs">S</tspan><tspan x="429.47" textLength="2.9" lengthAdjust="spacingAndGlyphs">F</tspan><tspan x="432.24" textLength="3.68" lengthAdjust="spacingAndGlyphs">T</tspan><tspan x="435.27" textLength="1.98" lengthAdjust="spacingAndGlyphs">-</tspan><tspan x="437.47" textLength="4.25" lengthAdjust="spacingAndGlyphs">O</tspan><tspan x="441.88" textLength="3.82" lengthAdjust="spacingAndGlyphs">R</tspan><tspan x="445.75" textLength="3.26" lengthAdjust="spacingAndGlyphs">P</tspan><tspan x="449" textLength="4.25" lengthAdjust="spacingAndGlyphs">O</tspan><tspan x="453.46" textLength="1.98" lengthAdjust="spacingAndGlyphs">-</tspan><tspan x="455.59" textLength="3.29" lengthAdjust="spacingAndGlyphs">S</tspan><tspan x="459.04" textLength="3.16" lengthAdjust="spacingAndGlyphs">L</tspan><tspan x="462.19" textLength="3.2" lengthAdjust="spacingAndGlyphs">E</tspan><tspan x="465.64" textLength="3.82" lengthAdjust="spacingAndGlyphs">R</tspan><tspan x="469.52" textLength="3.26" lengthAdjust="spacingAndGlyphs">P</tspan></text>
<polygon points="321.6,618.25 322.42,620.77 325.07,620.77 322.93,622.33 323.75,624.85 321.6,623.29 319.45,624.85 320.27,622.33 318.13,620.77 320.78,620.77" fill="#000080" stroke="#000" stroke-width="0.79" stroke-linejoin="miter"/>
<text y="619.8" font-size="5.86" fill="#000"><tspan x="331.66" textLength="3.58" lengthAdjust="spacingAndGlyphs">B</tspan><tspan x="335.4" textLength="3.32" lengthAdjust="spacingAndGlyphs">e</tspan><tspan x="338.91" textLength="2.65" lengthAdjust="spacingAndGlyphs">s</tspan><tspan x="341.67" textLength="2.05" lengthAdjust="spacingAndGlyphs">t</tspan> <tspan x="345.7" textLength="3.26" lengthAdjust="spacingAndGlyphs">P</tspan><tspan x="348.75" textLength="3.32" lengthAdjust="spacingAndGlyphs">e</tspan><tspan x="352.12" textLength="2.37" lengthAdjust="spacingAndGlyphs">r</tspan><tspan x="354.4" textLength="2.02" lengthAdjust="spacingAndGlyphs">f</tspan><tspan x="356.38" textLength="3.27" lengthAdjust="spacingAndGlyphs">o</tspan><tspan x="359.72" textLength="2.37" lengthAdjust="spacingAndGlyphs">r</tspan><tspan x="361.96" textLength="5.25" lengthAdjust="spacingAndGlyphs">m</tspan><tspan x="367.41" textLength="1.25" lengthAdjust="spacingAndGlyphs">i</tspan><tspan x="368.91" textLength="3.32" lengthAdjust="spacingAndGlyphs">n</tspan><tspan x="372.36" textLength="3.34" lengthAdjust="spacingAndGlyphs">g</tspan> <tspan x="377.67" textLength="4.59" lengthAdjust="spacingAndGlyphs">M</tspan><tspan x="382.41" textLength="3.27" lengthAdjust="spacingAndGlyphs">o</tspan><tspan x="385.78" textLength="3.34" lengthAdjust="spacingAndGlyphs">d</tspan><tspan x="389.29" textLength="3.32" lengthAdjust="spacingAndGlyphs">e</tspan><tspan x="392.79" textLength="1.25" lengthAdjust="spacingAndGlyphs">l</tspan><tspan x="394.28" textLength="1.67" lengthAdjust="spacingAndGlyphs">:</tspan></text>
<text y="626" font-size="5.86" fill="#000"><tspan x="331.72" textLength="1.25" lengthAdjust="spacingAndGlyphs">l</tspan><tspan x="333.24" textLength="2.76" lengthAdjust="spacingAndGlyphs">a</tspan><tspan x="336.59" textLength="5.25" lengthAdjust="spacingAndGlyphs">m</tspan><tspan x="341.97" textLength="5.25" lengthAdjust="spacingAndGlyphs">m</tspan><tspan x="347.28" textLength="1.98" lengthAdjust="spacingAndGlyphs">-</tspan><tspan x="349.35" textLength="5.25" lengthAdjust="spacingAndGlyphs">m</tspan><tspan x="354.8" textLength="1.25" lengthAdjust="spacingAndGlyphs">i</tspan><tspan x="356.23" textLength="2.05" lengthAdjust="spacingAndGlyphs">t</tspan><tspan x="358.36" textLength="1.86" lengthAdjust="spacingAndGlyphs">/</tspan><tspan x="360.37" textLength="3.29" lengthAdjust="spacingAndGlyphs">S</tspan><tspan x="363.82" textLength="5.25" lengthAdjust="spacingAndGlyphs">m</tspan><tspan x="369.18" textLength="3.27" lengthAdjust="spacingAndGlyphs">o</tspan><tspan x="372.65" textLength="1.25" lengthAdjust="spacingAndGlyphs">l</tspan><tspan x="374.12" textLength="3.16" lengthAdjust="spacingAndGlyphs">L</tspan><tspan x="377.22" textLength="4.59" lengthAdjust="spacingAndGlyphs">M</tspan><tspan x="381.9" textLength="1.98" lengthAdjust="spacingAndGlyphs">-</tspan><tspan x="383.8" textLength="3.58" lengthAdjust="spacingAndGlyphs">B</tspan><tspan x="387.61" textLength="2.76" lengthAdjust="spacingAndGlyphs">a</tspan><tspan x="391.03" textLength="2.65" lengthAdjust="spacingAndGlyphs">s</tspan><tspan x="393.81" textLength="3.32" lengthAdjust="spacingAndGlyphs">e</tspan><tspan x="397.17" textLength="1.98" lengthAdjust="spacingAndGlyphs">-</tspan><tspan x="399.34" textLength="3.1" lengthAdjust="spacingAndGlyphs">1</tspan><tspan x="402.72" textLength="1.67" lengthAdjust="spacingAndGlyphs">.</tspan><tspan x="404.59" textLength="3.17" lengthAdjust="spacingAndGlyphs">7</tspan><tspan x="408.05" textLength="3.58" lengthAdjust="spacingAndGlyphs">B</tspan><tspan x="411.75" textLength="1.98" lengthAdjust="spacingAndGlyphs">-</tspan><tspan x="413.79" textLength="3.71" lengthAdjust="spacingAndGlyphs">C</tspan><tspan x="417.74" textLength="3.26" lengthAdjust="spacingAndGlyphs">P</tspan><tspan x="420.78" textLength="3.68" lengthAdjust="spacingAndGlyphs">T</tspan><tspan x="423.81" textLength="1.98" lengthAdjust="spacingAndGlyphs">-</tspan><tspan x="425.94" textLength="3.29" lengthAdjust="spacingAndGlyphs">S</tspan><tspan x="429.47" textLength="2.9" lengthAdjust="spacingAndGlyphs">F</tspan><tspan x="432.24" textLength="3.68" lengthAdjust="spacingAndGlyphs">T</tspan><tspan x="435.27" textLength="1.98" lengthAdjust="spacingAndGlyphs">-</tspan><tspan x="437.34" textLength="4.13" lengthAdjust="spacingAndGlyphs">D</tspan><tspan x="441.66" textLength="3.26" lengthAdjust="spacingAndGlyphs">P</tspan><tspan x="444.91" textLength="4.25" lengthAdjust="spacingAndGlyphs">O</tspan><tspan x="449.37" textLength="1.98" lengthAdjust="spacingAndGlyphs">-</tspan><tspan x="451.5" textLength="3.29" lengthAdjust="spacingAndGlyphs">S</tspan><tspan x="454.94" textLength="3.16" lengthAdjust="spacingAndGlyphs">L</tspan><tspan x="458.1" textLength="3.2" lengthAdjust="spacingAndGlyphs">E</tspan><tspan x="461.55" textLength="3.82" lengthAdjust="spacingAndGlyphs">R</tspan><tspan x="465.43" textLength="3.26" lengthAdjust="spacingAndGlyphs">P</tspan></text>
<rect x="618.8" y="300.4" width="28.6" height="3.0" fill="#c4c4c4"/>
</svg>
</body></html>
